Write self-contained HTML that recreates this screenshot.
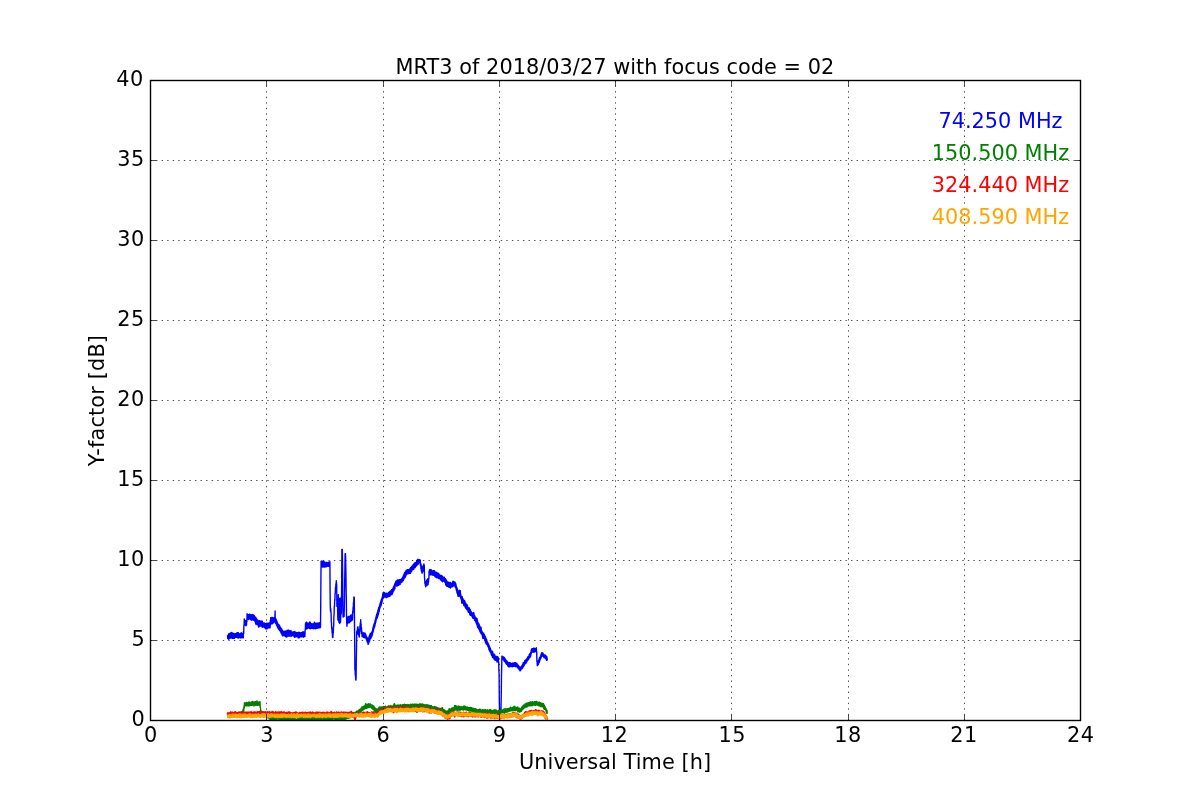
<!DOCTYPE html>
<html lang="en">
<head>
<meta charset="utf-8">
<title>MRT3 of 2018/03/27 with focus code = 02</title>
<style>
html,body{margin:0;padding:0;background:#fff;}
body{width:1200px;height:800px;overflow:hidden;}
svg{display:block;}
</style>
</head>
<body>
<svg width="1200" height="800" viewBox="0 0 1200 800">
<rect x="0" y="0" width="1200" height="800" fill="#ffffff"/>
<clipPath id="ax"><rect x="150.5" y="80.5" width="930" height="640"/></clipPath>
<g clip-path="url(#ax)" fill="none" stroke-width="1.39" stroke-linejoin="round" stroke-linecap="butt">
<path stroke="#0000ff" d="M227.5,635.1 227.7,638.4 227.9,635.2 228.1,638.4 228.3,635.0 228.5,639.2 228.7,633.9 228.9,638.9 229.1,633.5 229.3,638.7 229.5,634.0 229.7,638.1 229.9,633.7 230.1,638.2 230.3,633.2
L230.5,637.4 230.7,633.0 230.9,637.2 231.1,632.9 231.3,637.9 231.5,632.4 231.7,637.8 231.9,632.7 232.1,638.3 232.3,633.2 232.5,638.3 232.7,633.1 232.9,638.2 233.1,633.2 233.3,638.2
L233.5,633.4 233.7,638.2 233.9,634.0 234.1,638.2 234.3,633.9 234.5,638.3 234.7,634.0 234.9,637.4 235.1,633.8 235.3,637.4 235.5,633.7 235.7,637.4 235.9,633.5 236.1,637.4 236.3,633.2
L236.5,637.2 236.7,632.9 236.9,637.3 237.1,633.2 237.3,637.3 237.5,632.7 237.7,637.7 237.9,632.8 238.1,638.1 238.3,632.8 238.5,637.5 238.7,633.7 238.9,637.7 239.1,633.7 239.3,637.6
L239.5,634.3 239.7,637.5 239.9,634.2 240.1,637.6 240.3,633.8 240.5,638.0 240.7,634.0 240.9,637.8 241.1,632.7 241.3,637.7 241.5,633.1 241.7,637.6 241.9,633.1 242.1,637.3 242.3,634.1
L242.5,637.2 242.7,634.1 242.9,637.9 243.1,633.8 243.3,637.9 243.5,631.4 243.7,633.4 243.9,625.1 244.1,625.6 244.3,618.9 244.5,623.8 244.7,620.5 244.9,624.3 245.1,620.8 245.3,624.6
L245.5,621.1 245.7,625.5 245.9,620.5 246.1,625.8 246.3,620.8 246.5,624.9 246.7,620.2 246.9,621.8 247.1,613.6 247.3,618.3 247.5,615.1 247.7,619.1 247.9,615.0 248.1,619.1 248.3,614.7
L248.5,619.5 248.7,614.7 248.9,619.2 249.1,614.6 249.3,618.8 249.5,614.1 249.7,618.7 249.9,614.1 250.1,619.0 250.3,615.4 250.5,619.4 250.7,615.6 250.9,619.3 251.1,614.8 251.3,620.2
L251.5,615.1 251.7,620.0 251.9,614.7 252.1,619.1 252.3,614.5 252.5,619.3 252.7,614.8 252.9,620.0 253.1,615.0 253.3,619.9 253.5,614.9 253.7,620.0 253.9,615.2 254.1,620.3 254.3,615.6
L254.5,620.6 254.7,616.5 254.9,621.3 255.1,617.0 255.3,621.9 255.5,617.1 255.7,623.8 255.9,617.8 256.1,624.5 256.3,618.3 256.5,623.3 256.7,619.0 256.9,623.7 257.1,619.7 257.3,624.1
L257.5,620.0 257.7,624.7 257.9,620.7 258.1,625.1 258.3,621.3 258.5,627.0 258.7,621.5 258.9,627.1 259.1,620.5 259.3,625.4 259.5,620.7 259.7,625.6 259.9,621.1 260.1,626.1 260.3,621.2
L260.5,626.1 260.7,621.1 260.9,625.7 261.1,622.1 261.3,625.9 261.5,621.9 261.7,625.8 261.9,621.0 262.1,627.1 262.3,621.1 262.5,627.3 262.7,622.6 262.9,626.6 263.1,622.9 263.3,626.8
L263.5,623.1 263.7,626.8 263.9,622.9 264.1,627.0 264.3,623.0 264.5,627.6 264.7,623.5 264.9,627.7 265.1,623.9 265.3,628.1 265.5,623.5 265.7,628.9 265.9,623.8 266.1,628.9 266.3,623.6
L266.5,628.8 266.7,623.2 266.9,628.9 267.1,623.3 267.3,628.0 267.5,623.9 267.7,628.1 267.9,623.5 268.1,627.6 268.3,623.1 268.5,627.8 268.7,623.3 268.9,627.7 269.1,623.5 269.3,627.7
L269.5,623.4 269.7,627.5 269.9,622.4 270.1,627.8 270.3,620.6 270.5,624.9 270.7,617.6 270.9,621.5 271.1,618.4 271.3,621.5 271.5,618.4 271.7,623.9 271.9,617.5 272.1,623.8 272.3,617.4
L272.5,623.7 272.7,617.8 272.9,622.8 273.1,618.0 273.3,622.9 273.5,617.9 273.7,621.7 273.9,618.0 274.1,621.9 274.3,618.0 274.5,621.9 274.7,617.6 274.9,616.9 275.1,611.0 275.3,623.0
L275.5,618.5 275.7,623.3 275.9,618.8 276.1,623.9 276.3,619.8 276.5,625.1 276.7,620.7 276.9,625.8 277.1,621.9 277.3,626.6 277.5,622.7 277.7,627.6 277.9,623.7 278.1,628.2 278.3,624.2
L278.5,629.1 278.7,625.0 278.9,629.2 279.1,624.9 279.3,629.9 279.5,625.3 279.7,630.6 279.9,626.5 280.1,630.7 280.3,627.2 280.5,631.4 280.7,627.6 280.9,632.7 281.1,628.3 281.3,633.3
L281.5,628.8 281.7,634.0 281.9,629.2 282.1,634.9 282.3,630.1 282.5,635.8 282.7,630.7 282.9,635.7 283.1,630.9 283.3,635.6 283.5,631.7 283.7,635.0 283.9,631.9 284.1,634.8 284.3,631.4
L284.5,635.8 284.7,631.3 284.9,635.8 285.1,631.4 285.3,636.2 285.5,631.1 285.7,636.2 285.9,630.9 286.1,637.0 286.3,631.6 286.5,637.1 286.7,631.5 286.9,636.9 287.1,630.2 287.3,636.3
L287.5,630.5 287.7,636.1 287.9,630.5 288.1,636.1 288.3,630.2 288.5,636.1 288.7,630.2 288.9,636.1 289.1,630.7 289.3,636.2 289.5,630.7 289.7,634.7 289.9,631.1 290.1,634.7 290.3,631.1
L290.5,634.8 290.7,630.8 290.9,636.5 291.1,630.7 291.3,636.2 291.5,632.0 291.7,635.3 291.9,632.2 292.1,635.5 292.3,632.2 292.5,635.6 292.7,632.0 292.9,635.6 293.1,632.0 293.3,635.9
L293.5,631.9 293.7,636.1 293.9,632.0 294.1,636.1 294.3,631.7 294.5,637.3 294.7,631.6 294.9,637.1 295.1,632.0 295.3,636.8 295.5,632.1 295.7,636.9 295.9,632.2 296.1,636.3 296.3,632.8
L296.5,636.4 296.7,632.8 296.9,636.5 297.1,632.6 297.3,636.5 297.5,632.8 297.7,636.7 297.9,633.0 298.1,637.8 298.3,632.8 298.5,637.6 298.7,632.3 298.9,637.8 299.1,632.4 299.3,637.7
L299.5,632.4 299.7,636.5 299.9,633.3 300.1,636.6 300.3,633.3 300.5,636.7 300.7,632.8 300.9,636.7 301.1,632.9 301.3,636.7 301.5,632.8 301.7,636.8 301.9,632.7 302.1,636.6 302.3,632.0
L302.5,636.5 302.7,632.3 302.9,636.6 303.1,632.0 303.3,637.2 303.5,631.9 303.7,637.0 303.9,631.9 304.1,636.4 304.3,632.4 304.5,636.3 304.7,632.5 304.9,636.5 305.1,630.3 305.3,630.3
L305.5,623.7 305.7,628.1 305.9,622.4 306.1,629.0 306.3,622.2 306.5,628.8 306.7,622.3 306.9,628.8 307.1,623.2 307.3,628.6 307.5,623.1 307.7,627.5 307.9,623.4 308.1,627.6 308.3,623.4
L308.5,627.6 308.7,623.3 308.9,628.3 309.1,623.2 309.3,628.5 309.5,622.2 309.7,628.2 309.9,621.9 310.1,628.1 310.3,622.2 310.5,628.8 310.7,624.8 310.9,628.5 311.1,624.6 311.3,628.4
L311.5,623.6 311.7,628.3 311.9,623.4 312.1,628.3 312.3,624.3 312.5,628.0 312.7,624.3 312.9,628.0 313.1,624.1 313.3,628.6 313.5,624.0 313.7,628.8 313.9,623.9 314.1,627.7 314.3,622.1
L314.5,627.6 314.7,622.5 314.9,628.6 315.1,623.2 315.3,628.7 315.5,623.4 315.7,628.4 315.9,624.3 316.1,628.5 316.3,624.2 316.5,628.4 316.7,623.1 316.9,627.9 317.1,623.2 317.3,627.6
L317.5,623.2 317.7,628.3 317.9,624.0 318.1,628.0 318.3,624.0 318.5,627.9 318.7,622.9 318.9,627.6 319.1,622.9 319.3,627.7 319.5,622.8 319.7,627.7 319.9,622.6 320.1,627.7 320.3,623.2
L320.5,627.3 320.7,607.9 320.9,580.8 321.1,561.2 321.3,565.7 321.5,561.3 321.7,565.8 321.9,561.2 322.1,566.9 322.3,561.1 322.5,567.0 322.7,561.4 322.9,567.0 323.1,561.5 323.3,566.8
L323.5,561.4 323.7,566.7 323.9,561.8 324.1,567.1 324.3,561.9 324.5,567.1 324.7,561.9 324.9,566.2 325.1,563.3 325.3,566.1 325.5,563.2 325.7,566.8 325.9,562.6 326.1,566.7 326.3,562.4
L326.5,566.6 326.7,562.4 326.9,566.4 327.1,562.4 327.3,566.3 327.5,562.9 327.7,565.8 327.9,562.9 328.1,565.8 328.3,563.0 328.5,566.2 328.7,562.1 328.9,566.4 329.1,561.9 329.3,565.8
L329.5,562.0 329.7,565.8 329.9,561.7 330.1,591.4 330.3,606.6 330.5,611.1 330.7,608.2 330.9,612.2 331.1,613.5 331.3,622.2 331.5,622.9 331.7,628.9 331.9,627.2 332.1,632.9 332.3,632.2
L332.5,637.1 332.7,636.4 332.9,637.5 333.1,631.6 333.3,632.7 333.5,626.8 333.7,625.8 333.9,616.0 334.1,614.8 334.3,605.9 334.5,606.2 334.7,599.8 334.9,600.3 335.1,593.1 335.3,593.5
L335.5,587.2 335.7,589.3 335.9,583.7 336.1,585.9 336.3,580.7 336.5,583.3 336.7,585.4 336.9,606.4 337.1,605.2 337.3,602.3 337.5,599.2 337.7,613.5 337.9,620.1 338.1,611.9 338.3,594.6
L338.5,613.1 338.7,618.0 338.9,622.2 339.1,598.8 339.3,603.9 339.5,605.4 339.7,623.5 339.9,604.3 340.1,597.9 340.3,606.4 340.5,622.2 340.7,617.7 340.9,608.5 341.1,601.7 341.3,613.7
L341.5,601.2 341.7,577.3 341.9,549.4 342.1,551.6 342.3,549.4 342.5,563.6 342.7,583.4 342.9,610.7 343.1,617.0 343.3,617.0 343.5,609.8 343.7,612.5 343.9,611.2 344.1,616.4 344.3,607.5
L344.5,596.7 344.7,580.1 344.9,569.0 345.1,553.8 345.3,555.2 345.5,553.8 345.7,561.7 345.9,571.5 346.1,587.8 346.3,596.7 346.5,614.4 346.7,622.0 346.9,626.2 347.1,619.4 347.3,624.0
L347.5,617.3 347.7,623.0 347.9,617.1 348.1,623.0 348.3,616.7 348.5,622.1 348.7,616.4 348.9,622.2 349.1,616.5 349.3,622.7 349.5,616.6 349.7,622.6 349.9,616.5 350.1,621.0 350.3,615.9
L350.5,620.7 350.7,615.2 350.9,621.3 351.1,616.2 351.3,620.8 351.5,615.8 351.7,620.5 351.9,614.6 352.1,620.4 352.3,614.3 352.5,619.4 352.7,611.1 352.9,613.1 353.1,607.2 353.3,607.5
L353.5,602.1 353.7,602.8 353.9,596.9 354.1,600.3 354.3,597.5 354.5,624.0 354.7,643.6 354.9,669.9 355.1,669.1 355.3,675.2 355.5,674.6 355.7,679.7 355.9,680.1 356.1,676.8 356.3,660.0
L356.5,649.1 356.7,631.7 356.9,634.5 357.1,630.6 357.3,633.9 357.5,627.8 357.7,633.7 357.9,626.6 358.1,633.3 358.3,629.0 358.5,634.4 358.7,630.5 358.9,636.0 359.1,631.8 359.3,637.0
L359.5,629.7 359.7,633.7 359.9,625.9 360.1,628.7 360.3,622.9 360.5,625.5 360.7,619.7 360.9,627.6 361.1,624.0 361.3,631.5 361.5,627.7 361.7,633.7 361.9,631.5 362.1,636.6 362.3,632.7
L362.5,636.6 362.7,633.3 362.9,636.9 363.1,633.5 363.3,637.0 363.5,632.8 363.7,637.4 363.9,633.2 364.1,637.6 364.3,633.2 364.5,637.6 364.7,633.2 364.9,637.9 365.1,633.2 365.3,637.3
L365.5,633.9 365.7,638.0 365.9,634.9 366.1,638.8 366.3,636.1 366.5,640.0 366.7,637.0 366.9,640.9 367.1,637.5 367.3,641.9 367.5,638.2 367.7,642.8 367.9,639.0 368.1,644.4 368.3,638.6
L368.5,643.8 368.7,638.0 368.9,642.7 369.1,636.4 369.3,641.6 369.5,635.5 369.7,641.0 369.9,634.5 370.1,639.3 370.3,633.5 370.5,638.6 370.7,634.0 370.9,638.2 371.1,633.2 371.3,637.3
L371.5,632.4 371.7,636.6 371.9,631.9 372.1,635.7 372.3,631.0 372.5,633.9 372.7,628.8 372.9,632.4 373.1,627.2 373.3,631.3 373.5,625.7 373.7,629.4 373.9,624.1 374.1,628.0 374.3,623.5
L374.5,627.2 374.7,622.0 374.9,625.9 375.1,620.5 375.3,623.9 375.5,618.9 375.7,622.5 375.9,617.3 376.1,620.6 376.3,615.8 376.5,619.3 376.7,614.4 376.9,617.8 377.1,613.2 377.3,618.0
L377.5,612.1 377.7,616.6 377.9,610.3 378.1,615.3 378.3,608.9 378.5,613.9 378.7,607.5 378.9,612.3 379.1,607.3 379.3,611.1 379.5,605.9 379.7,608.9 379.9,604.0 380.1,607.6 380.3,602.8
L380.5,606.3 380.7,601.6 380.9,605.9 381.1,600.2 381.3,605.1 381.5,599.2 381.7,603.4 381.9,598.1 382.1,602.0 382.3,596.9 382.5,600.0 382.7,594.1 382.9,598.7 383.1,592.8 383.3,597.6
L383.5,593.6 383.7,597.3 383.9,593.5 384.1,597.4 384.3,592.6 384.5,596.8 384.7,592.5 384.9,596.8 385.1,593.6 385.3,596.8 385.5,593.8 385.7,596.9 385.9,593.7 386.1,597.7 386.3,593.4
L386.5,597.4 386.7,593.3 386.9,597.0 387.1,593.3 387.3,597.1 387.5,593.5 387.7,597.1 387.9,593.4 388.1,596.4 388.3,593.2 388.5,596.2 388.7,592.4 388.9,596.3 389.1,592.1 389.3,595.9
L389.5,591.8 389.7,596.3 389.9,591.5 390.1,596.0 390.3,591.0 390.5,594.9 390.7,591.0 390.9,594.5 391.1,590.8 391.3,594.5 391.5,589.7 391.7,594.8 391.9,589.7 392.1,594.4 392.3,589.8
L392.5,593.4 392.7,588.7 392.9,592.5 393.1,587.9 393.3,591.5 393.5,586.9 393.7,590.7 393.9,586.2 394.1,590.1 394.3,585.1 394.5,589.1 394.7,584.0 394.9,588.6 395.1,583.3 395.3,586.3
L395.5,582.3 395.7,585.3 395.9,581.2 396.1,585.2 396.3,581.1 396.5,585.0 396.7,581.0 396.9,586.3 397.1,580.1 397.3,585.7 397.5,579.9 397.7,585.6 397.9,580.1 398.1,585.5 398.3,579.9
L398.5,585.4 398.7,580.8 398.9,584.1 399.1,580.4 399.3,583.9 399.5,579.8 399.7,584.6 399.9,579.6 400.1,584.4 400.3,579.6 400.5,582.8 400.7,579.5 400.9,582.5 401.1,579.2 401.3,582.6
L401.5,578.7 401.7,582.4 401.9,578.4 402.1,581.6 402.3,578.0 402.5,580.9 402.7,577.3 402.9,580.2 403.1,576.2 403.3,580.6 403.5,575.5 403.7,579.6 403.9,574.5 404.1,578.5 404.3,573.2
L404.5,577.8 404.7,572.5 404.9,577.7 405.1,572.4 405.3,577.3 405.5,571.8 405.7,576.3 405.9,570.7 406.1,574.7 406.3,570.2 406.5,574.7 406.7,570.1 406.9,573.9 407.1,569.9 407.3,573.9
L407.5,569.8 407.7,573.9 407.9,569.6 408.1,573.9 408.3,569.6 408.5,573.4 408.7,570.4 408.9,573.4 409.1,570.4 409.3,573.2 409.5,569.2 409.7,573.2 409.9,569.4 410.1,573.0 410.3,568.3
L410.5,573.2 410.7,567.5 410.9,572.2 411.1,567.1 411.3,571.6 411.5,567.1 411.7,571.1 411.9,566.3 412.1,569.9 412.3,566.1 412.5,569.7 412.7,565.6 412.9,569.0 413.1,564.8 413.3,569.5
L413.5,564.3 413.7,569.4 413.9,563.9 414.1,567.8 414.3,563.4 414.5,567.3 414.7,562.9 414.9,567.7 415.1,562.8 415.3,567.5 415.5,562.4 415.7,566.4 415.9,562.7 416.1,566.1 416.3,562.4
L416.5,565.7 416.7,560.4 416.9,565.0 417.1,560.3 417.3,564.7 417.5,559.7 417.7,564.8 417.9,559.2 418.1,564.2 418.3,559.6 418.5,563.6 418.7,559.6 418.9,563.0 419.1,559.6 419.3,562.8
L419.5,559.6 419.7,562.5 419.9,559.6 420.1,561.9 420.3,560.4 420.5,565.7 420.7,563.5 420.9,568.7 421.1,564.4 421.3,570.8 421.5,566.1 421.7,572.3 421.9,567.7 422.1,573.3 422.3,567.5
L422.5,572.2 422.7,566.6 422.9,571.7 423.1,565.7 423.3,570.9 423.5,564.7 423.7,569.7 423.9,563.9 424.1,568.4 424.3,565.5 424.5,578.0 424.7,578.8 424.9,583.4 425.1,581.1 425.3,585.5
L425.5,582.8 425.7,586.7 425.9,581.9 426.1,586.0 426.3,581.6 426.5,585.5 426.7,580.3 426.9,585.0 427.1,579.7 427.3,584.4 427.5,579.3 427.7,585.0 427.9,578.6 428.1,584.5 428.3,579.2
L428.5,582.0 428.7,578.6 428.9,578.4 429.1,571.1 429.3,575.0 429.5,569.6 429.7,574.9 429.9,569.4 430.1,574.9 430.3,570.1 430.5,574.7 430.7,569.9 430.9,574.9 431.1,569.8 431.3,574.1
L431.5,570.3 431.7,574.2 431.9,570.8 432.1,574.7 432.3,571.2 432.5,574.7 432.7,571.3 432.9,575.3 433.1,570.7 433.3,575.4 433.5,570.8 433.7,575.2 433.9,570.8 434.1,575.4 434.3,570.8
L434.5,575.5 434.7,571.3 434.9,576.6 435.1,571.7 435.3,576.8 435.5,572.5 435.7,576.8 435.9,572.6 436.1,577.3 436.3,573.0 436.5,577.6 436.7,572.2 436.9,577.8 437.1,572.6 437.3,577.5
L437.5,573.9 437.7,577.6 437.9,574.2 438.1,577.9 438.3,573.2 438.5,578.5 438.7,573.4 438.9,578.6 439.1,574.4 439.3,578.5 439.5,574.6 439.7,578.5 439.9,574.9 440.1,579.0 440.3,575.4
L440.5,579.5 440.7,575.7 440.9,580.1 441.1,575.5 441.3,580.4 441.5,576.0 441.7,580.7 441.9,575.8 442.1,581.4 442.3,576.1 442.5,581.7 442.7,577.1 442.9,580.7 443.1,577.4 443.3,580.9
L443.5,577.5 443.7,581.1 443.9,577.0 444.1,581.3 444.3,577.1 444.5,581.6 444.7,578.3 444.9,582.2 445.1,579.0 445.3,582.8 445.5,578.6 445.7,584.9 445.9,579.5 446.1,585.2 446.3,580.1
L446.5,585.6 446.7,580.7 446.9,586.2 447.1,581.2 447.3,585.9 447.5,582.9 447.7,586.2 447.9,582.9 448.1,586.7 448.3,582.1 448.5,587.0 448.7,582.2 448.9,587.0 449.1,583.1 449.3,587.2
L449.5,583.2 449.7,587.2 449.9,582.5 450.1,587.7 450.3,582.4 450.5,588.0 450.7,582.7 450.9,587.0 451.1,583.0 451.3,587.0 451.5,583.3 451.7,586.9 451.9,583.3 452.1,586.9 452.3,583.0
L452.5,586.3 452.7,581.7 452.9,586.5 453.1,581.3 453.3,586.0 453.5,582.1 453.7,585.4 453.9,581.7 454.1,585.4 454.3,582.2 454.5,585.7 454.7,582.0 454.9,586.3 455.1,582.3 455.3,587.3
L455.5,583.1 455.7,587.8 455.9,584.0 456.1,589.2 456.3,586.0 456.5,590.8 456.7,587.5 456.9,592.4 457.1,587.9 457.3,593.4 457.5,589.6 457.7,595.0 457.9,591.4 458.1,596.4 458.3,591.7
L458.5,596.2 458.7,591.5 458.9,596.3 459.1,590.5 459.3,596.0 459.5,590.2 459.7,596.0 459.9,590.6 460.1,595.9 460.3,590.6 460.5,597.5 460.7,593.9 460.9,598.6 461.1,596.3 461.3,599.7
L461.5,596.9 461.7,602.7 461.9,596.4 462.1,603.4 462.3,597.0 462.5,601.7 462.7,598.4 462.9,602.2 463.1,598.9 463.3,602.8 463.5,599.7 463.7,605.2 463.9,600.2 464.1,605.7 464.3,600.4
L464.5,605.5 464.7,600.9 464.9,606.2 465.1,601.7 465.3,607.5 465.5,603.0 465.7,608.3 465.9,603.4 466.1,608.4 466.3,604.3 466.5,609.0 466.7,604.8 466.9,609.7 467.1,604.7 467.3,609.3
L467.5,605.7 467.7,610.1 467.9,607.1 468.1,611.8 468.3,607.8 468.5,612.4 468.7,608.2 468.9,612.3 469.1,607.7 469.3,612.7 469.5,608.4 469.7,614.3 469.9,609.3 470.1,614.9 470.3,609.8
L470.5,615.4 470.7,611.0 470.9,614.4 471.1,611.5 471.3,614.9 471.5,612.3 471.7,616.0 471.9,612.8 472.1,616.5 472.3,613.3 472.5,617.4 472.7,613.5 472.9,618.2 473.1,614.0 473.3,617.9
L473.5,612.4 473.7,618.2 473.9,612.9 474.1,618.7 474.3,615.3 474.5,620.1 474.7,615.8 474.9,620.5 475.1,616.7 475.3,621.0 475.5,617.3 475.7,621.6 475.9,617.7 476.1,623.0 476.3,618.0
L476.5,623.7 476.7,618.5 476.9,624.7 477.1,618.6 477.3,626.2 477.5,620.3 477.7,627.6 477.9,622.7 478.1,627.2 478.3,624.0 478.5,628.5 478.7,623.2 478.9,629.3 479.1,624.4 479.3,630.0
L479.5,625.1 479.7,631.1 479.9,627.9 480.1,631.8 480.3,628.6 480.5,632.7 480.7,626.9 480.9,633.3 481.1,627.4 481.3,634.0 481.5,630.3 481.7,634.1 481.9,630.9 482.1,634.9 482.3,632.3
L482.5,637.3 482.7,633.0 482.9,638.5 483.1,633.7 483.3,637.1 483.5,633.0 483.7,637.8 483.9,633.9 484.1,638.5 484.3,634.5 484.5,639.1 484.7,635.3 484.9,639.7 485.1,636.3 485.3,641.9
L485.5,637.0 485.7,642.8 485.9,638.1 486.1,643.6 486.3,639.0 486.5,644.3 486.7,639.6 486.9,644.0 487.1,641.1 487.3,644.9 487.5,642.1 487.7,646.0 487.9,642.8 488.1,646.7 488.3,643.6
L488.5,647.7 488.7,644.5 488.9,649.5 489.1,645.4 489.3,650.2 489.5,646.4 489.7,651.0 489.9,647.5 490.1,651.9 490.3,648.3 490.5,652.3 490.7,649.5 490.9,653.3 491.1,650.5 491.3,654.6
L491.5,651.4 491.7,655.4 491.9,652.3 492.1,656.0 492.3,651.1 492.5,657.4 492.7,651.8 492.9,657.8 493.1,653.6 493.3,656.9 493.5,654.0 493.7,657.3 493.9,654.5 494.1,659.2 494.3,654.2
L494.5,659.7 494.7,654.7 494.9,659.6 495.1,656.0 495.3,660.1 495.5,656.3 495.7,660.4 495.9,656.7 496.1,660.3 496.3,657.0 496.5,660.4 496.7,656.4 496.9,661.9 497.1,656.5 497.3,662.0
L497.5,657.1 497.7,661.4 497.9,657.0 498.1,661.6 498.3,657.8 498.5,661.9 498.7,661.9 498.9,670.3 499.1,674.0 499.3,700.3 499.5,710.8 499.7,711.8 499.9,710.8 500.1,711.8 500.3,710.0
L500.5,711.8 500.7,710.0 500.9,711.8 501.1,702.8 501.3,691.5 501.5,675.3 501.7,666.4 501.9,656.2 502.1,658.5 502.3,656.2 502.5,658.9 502.7,656.4 502.9,659.5 503.1,656.6 503.3,659.6
L503.5,657.0 503.7,660.0 503.9,657.1 504.1,661.0 504.3,657.5 504.5,661.6 504.7,658.0 504.9,661.5 505.1,658.6 505.3,662.1 505.5,659.4 505.7,663.0 505.9,660.0 506.1,663.7 506.3,660.5
L506.5,664.2 506.7,660.8 506.9,664.3 507.1,661.2 507.3,664.7 507.5,661.8 507.7,665.6 507.9,662.3 508.1,666.2 508.3,662.9 508.5,666.7 508.7,662.7 508.9,666.8 509.1,662.8 509.3,666.6
L509.5,662.8 509.7,666.8 509.9,662.7 510.1,666.8 510.3,663.0 510.5,665.9 510.7,663.0 510.9,665.9 511.1,663.6 511.3,666.2 511.5,663.6 511.7,666.1 511.9,663.6 512.1,666.7 512.3,663.3
L512.5,666.7 512.7,663.3 512.9,666.2 513.1,663.1 513.3,666.2 513.5,663.1 513.7,666.1 513.9,663.1 514.1,666.3 514.3,663.1 514.5,666.1 514.7,662.8 514.9,666.3 515.1,662.7 515.3,666.3
L515.5,662.6 515.7,666.7 515.9,663.4 516.1,666.6 516.3,663.4 516.5,666.0 516.7,663.2 516.9,666.5 517.1,663.7 517.3,667.2 517.5,664.7 517.7,667.6 517.9,665.2 518.1,668.3 518.3,665.3
L518.5,668.8 518.7,665.8 518.9,669.3 519.1,666.4 519.3,669.6 519.5,667.5 519.7,670.1 519.9,668.0 520.1,670.9 520.3,667.3 520.5,670.3 520.7,666.9 520.9,670.0 521.1,666.8 521.3,669.0
L521.5,666.2 521.7,668.5 521.9,665.6 522.1,668.6 522.3,665.0 522.5,668.1 522.7,664.5 522.9,667.5 523.1,662.9 523.3,666.8 523.5,662.5 523.7,666.1 523.9,662.7 524.1,665.4 524.3,662.2
L524.5,664.9 524.7,660.8 524.9,664.0 525.1,660.5 525.3,663.5 525.5,660.4 525.7,663.5 525.9,659.7 526.1,663.0 526.3,659.2 526.5,662.2 526.7,659.3 526.9,661.6 527.1,658.6 527.3,660.8
L527.5,657.4 527.7,660.2 527.9,656.7 528.1,659.8 528.3,657.0 528.5,659.6 528.7,656.4 528.9,658.8 529.1,654.7 529.3,657.9 529.5,654.2 529.7,657.2 529.9,653.5 530.1,657.2 530.3,653.8
L530.5,656.4 530.7,652.8 530.9,655.1 531.1,650.7 531.3,653.5 531.5,649.1 531.7,652.1 531.9,648.7 532.1,652.1 532.3,648.8 532.5,652.1 532.7,648.6 532.9,651.8 533.1,648.6 533.3,651.9
L533.5,648.7 533.7,652.3 533.9,648.0 534.1,652.2 534.3,648.1 534.5,651.6 534.7,648.6 534.9,651.5 535.1,648.7 535.3,651.6 535.5,648.6 535.7,651.6 535.9,648.4 536.1,651.7 536.3,647.8
L536.5,651.3 536.7,651.4 536.9,661.6 537.1,661.3 537.3,665.6 537.5,661.9 537.7,665.3 537.9,661.6 538.1,664.6 538.3,660.8 538.5,664.2 538.7,660.1 538.9,662.9 539.1,658.7 539.3,662.1
L539.5,657.7 539.7,660.9 539.9,657.8 540.1,660.0 540.3,656.6 540.5,658.8 540.7,655.6 540.9,658.3 541.1,654.2 541.3,657.2 541.5,653.0 541.7,655.7 541.9,652.7 542.1,655.8 542.3,653.0
L542.5,656.0 542.7,652.9 542.9,656.1 543.1,653.3 543.3,656.5 543.5,654.4 543.7,657.1 543.9,654.8 544.1,657.5 544.3,655.2 544.5,657.4 544.7,655.0 544.9,657.8 545.1,655.3 545.3,658.4
L545.5,655.3 545.7,658.8 545.9,655.7 546.1,659.2 546.3,656.2 546.5,660.1 546.7,656.4 546.9,660.4 547.1,657.7 547.3,660.0"/>
<path stroke="#008000" d="M227.5,713.0 227.8,717.4 228.0,713.1 228.2,717.4 228.5,714.4 228.8,717.0 229.0,714.3 229.2,716.9 229.5,713.6 229.8,717.6 230.0,713.5 230.2,716.5 230.5,713.4 230.8,716.5 231.0,713.5
L231.2,717.0 231.5,713.1 231.8,717.2 232.0,713.6 232.2,717.2 232.5,713.6 232.8,717.1 233.0,714.2 233.2,716.2 233.5,714.0 233.8,716.3 234.0,713.8 234.2,717.1 234.5,713.9 234.8,716.9
L235.0,713.0 235.2,716.8 235.5,713.2 235.8,716.6 236.0,713.9 236.2,716.6 236.5,712.8 236.8,716.6 237.0,712.5 237.2,716.5 237.5,713.2 237.8,716.6 238.0,713.1 238.2,716.6 238.5,713.2
L238.8,716.1 239.0,713.0 239.2,715.4 239.5,712.3 239.8,715.3 240.0,712.1 240.2,715.5 240.5,712.7 240.8,715.3 241.0,712.0 241.2,715.4 241.5,711.6 241.8,715.1 242.0,711.7 242.2,714.5
L242.5,711.2 242.8,714.3 243.0,709.8 243.2,713.7 243.5,707.9 243.8,711.0 244.0,706.1 244.2,708.0 244.5,702.8 244.8,705.8 245.0,703.0 245.2,705.7 245.5,702.9 245.8,705.8 246.0,702.9
L246.2,705.9 246.5,702.5 246.8,705.8 247.0,702.5 247.2,705.8 247.5,703.1 247.8,705.2 248.0,702.9 248.2,705.9 248.5,702.1 248.8,705.7 249.0,701.9 249.2,705.7 249.5,702.1 249.8,705.8
L250.0,702.6 250.2,705.2 250.5,702.6 250.8,705.0 251.0,702.2 251.2,705.2 251.5,702.1 251.8,705.1 252.0,701.8 252.2,705.4 252.5,701.5 252.8,704.9 253.0,702.1 253.2,704.9 253.5,702.0
L253.8,705.7 254.0,702.2 254.2,705.7 254.5,701.9 254.8,705.6 255.0,701.8 255.2,705.4 255.5,701.7 255.8,704.7 256.0,701.6 256.2,704.8 256.5,701.1 256.8,705.2 257.0,700.9 257.2,705.1
L257.5,702.3 257.8,705.2 258.0,702.2 258.2,705.0 258.5,702.4 258.8,704.7 259.0,701.9 259.2,705.2 259.5,702.0 259.8,705.0 260.0,701.8 260.2,707.8 260.5,707.7 260.8,713.7 261.0,710.8
L261.2,714.5 261.5,711.2 261.8,714.6 262.0,712.0 262.2,714.7 262.5,712.1 262.8,715.1 263.0,711.6 263.2,715.2 263.5,712.6 263.8,714.6 264.0,712.6 264.2,714.8 264.5,712.5 264.8,715.6
L265.0,712.7 265.2,715.7 265.5,712.7 265.8,715.4 266.0,712.9 266.2,715.8 266.5,712.5 266.8,716.2 267.0,713.2 267.2,717.3 267.5,713.5 267.8,717.9 268.0,715.1 268.2,717.5 268.5,715.4
L268.8,717.9 269.0,715.7 269.2,718.9 269.5,716.2 269.8,719.3 270.0,716.3 270.2,719.1 270.5,716.3 270.8,719.8 271.0,716.1 271.2,719.8 271.5,716.0 271.8,719.8 272.0,715.8 272.2,719.8
L272.5,716.2 272.8,719.3 273.0,716.2 273.2,719.2 273.5,716.5 273.8,719.8 274.0,716.4 274.2,719.8 274.5,716.2 274.8,719.8 275.0,716.2 275.2,719.1 275.5,716.0 275.8,719.1 276.0,716.1
L276.2,719.4 276.5,716.0 276.8,719.2 277.0,714.9 277.2,719.0 277.5,715.3 277.8,719.0 278.0,716.3 278.2,719.1 278.5,716.4 278.8,719.2 279.0,716.2 279.2,719.4 279.5,715.9 279.8,719.4
L280.0,715.8 280.2,719.5 280.5,715.7 280.8,719.4 281.0,716.4 281.2,719.3 281.5,716.1 281.8,719.6 282.0,715.9 282.2,719.6 282.5,716.4 282.8,719.6 283.0,716.5 283.2,719.5 283.5,716.6
L283.8,719.8 284.0,716.5 284.2,719.2 284.5,716.6 284.8,719.3 285.0,716.8 285.2,719.8 285.5,716.8 285.8,719.8 286.0,716.6 286.2,719.2 286.5,716.7 286.8,719.3 287.0,716.6 287.2,719.8
L287.5,716.5 287.8,719.8 288.0,716.2 288.2,719.7 288.5,716.2 288.8,719.8 289.0,716.2 289.2,719.8 289.5,716.1 289.8,719.1 290.0,715.4 290.2,719.1 290.5,716.2 290.8,719.8 291.0,716.2
L291.2,719.7 291.5,716.4 291.8,719.4 292.0,716.3 292.2,719.4 292.5,716.3 292.8,719.4 293.0,716.5 293.2,719.4 293.5,716.3 293.8,719.5 294.0,716.4 294.2,719.8 294.5,716.3 294.8,719.8
L295.0,716.1 295.2,719.3 295.5,716.0 295.8,719.4 296.0,716.8 296.2,719.8 296.5,716.8 296.8,719.7 297.0,716.2 297.2,719.1 297.5,716.0 297.8,719.8 298.0,716.9 298.2,719.8 298.5,716.9
L298.8,719.8 299.0,716.6 299.2,719.8 299.5,716.2 299.8,719.8 300.0,716.2 300.2,719.8 300.5,716.8 300.8,719.6 301.0,716.9 301.2,719.7 301.5,716.0 301.8,719.5 302.0,716.3 302.2,719.7
L302.5,716.6 302.8,719.6 303.0,716.8 303.2,719.8 303.5,716.7 303.8,719.7 304.0,716.1 304.2,719.7 304.5,716.1 304.8,719.6 305.0,716.3 305.2,719.8 305.5,716.3 305.8,719.8 306.0,716.6
L306.2,719.4 306.5,716.7 306.8,719.8 307.0,715.9 307.2,719.8 307.5,716.1 307.8,719.8 308.0,716.9 308.2,719.8 308.5,716.2 308.8,719.3 309.0,716.2 309.2,719.2 309.5,716.1 309.8,719.2
L310.0,716.0 310.2,719.2 310.5,716.1 310.8,719.4 311.0,716.0 311.2,719.8 311.5,716.3 311.8,719.8 312.0,716.5 312.2,719.8 312.5,715.9 312.8,719.8 313.0,716.3 313.2,719.8 313.5,716.2
L313.8,719.8 314.0,716.6 314.2,719.3 314.5,716.7 314.8,719.3 315.0,716.0 315.2,719.2 315.5,716.0 315.8,719.3 316.0,716.4 316.2,719.4 316.5,716.2 316.8,719.7 317.0,716.6 317.2,719.7
L317.5,716.5 317.8,719.1 318.0,716.5 318.2,719.1 318.5,716.7 318.8,719.5 319.0,716.7 319.2,719.5 319.5,715.6 319.8,719.4 320.0,715.6 320.2,719.8 320.5,716.4 320.8,719.8 321.0,716.3
L321.2,719.8 321.5,716.3 321.8,719.6 322.0,716.4 322.2,719.1 322.5,716.6 322.8,719.1 323.0,716.7 323.2,719.3 323.5,716.7 323.8,719.2 324.0,715.8 324.2,719.8 324.5,715.8 324.8,719.8
L325.0,716.8 325.2,719.8 325.5,716.7 325.8,719.6 326.0,716.1 326.2,719.6 326.5,716.2 326.8,719.8 327.0,716.3 327.2,719.8 327.5,716.2 327.8,719.2 328.0,716.3 328.2,719.2 328.5,716.6
L328.8,719.5 329.0,716.4 329.2,719.5 329.5,716.7 329.8,719.7 330.0,716.6 330.2,718.9 330.5,716.8 330.8,719.0 331.0,716.7 331.2,719.8 331.5,716.6 331.8,719.8 332.0,716.0 332.2,719.8
L332.5,715.8 332.8,719.8 333.0,716.6 333.2,719.0 333.5,716.6 333.8,718.8 334.0,716.3 334.2,718.9 334.5,716.1 334.8,719.5 335.0,716.6 335.2,719.6 335.5,716.8 335.8,719.7 336.0,716.8
L336.2,719.7 336.5,716.4 336.8,719.1 337.0,716.5 337.2,719.2 337.5,715.5 337.8,719.3 338.0,715.6 338.2,719.3 338.5,716.3 338.8,719.3 339.0,716.4 339.2,718.9 339.5,716.4 339.8,718.9
L340.0,716.2 340.2,719.6 340.5,716.2 340.8,719.8 341.0,716.4 341.2,719.1 341.5,716.5 341.8,719.0 342.0,716.2 342.2,719.8 342.5,716.2 342.8,719.5 343.0,716.3 343.2,719.6 343.5,716.4
L343.8,718.9 344.0,715.8 344.2,718.9 344.5,716.2 344.8,719.8 345.0,716.3 345.2,719.5 345.5,716.4 345.8,718.8 346.0,716.2 346.2,718.5 346.5,715.3 346.8,718.8 347.0,715.3 347.2,718.1
L347.5,715.6 347.8,717.9 348.0,715.5 348.2,718.3 348.5,715.3 348.8,718.1 349.0,715.0 349.2,717.9 349.5,714.9 349.8,717.5 350.0,713.9 350.2,717.7 350.5,713.9 350.8,717.5 351.0,713.7
L351.2,717.5 351.5,713.2 351.8,717.4 352.0,713.4 352.2,717.2 352.5,712.9 352.8,716.1 353.0,713.5 353.2,715.8 353.5,712.6 353.8,715.8 354.0,712.5 354.2,715.6 354.5,713.1 354.8,716.4
L355.0,713.0 355.2,716.2 355.5,712.2 355.8,715.3 356.0,712.2 356.2,716.1 356.5,711.3 356.8,715.9 357.0,711.1 357.2,714.7 357.5,711.4 357.8,714.5 358.0,710.7 358.2,714.4 358.5,710.3
L358.8,714.1 359.0,710.0 359.2,712.8 359.5,709.5 359.8,712.4 360.0,709.5 360.2,712.4 360.5,709.0 360.8,712.1 361.0,708.3 361.2,711.8 361.5,707.9 361.8,710.9 362.0,706.7 362.2,710.5
L362.5,707.6 362.8,710.1 363.0,707.0 363.2,709.7 363.5,706.4 363.8,709.4 364.0,706.0 364.2,709.2 364.5,705.9 364.8,708.8 365.0,705.6 365.2,708.1 365.5,703.8 365.8,708.0 366.0,704.0
L366.2,708.6 366.5,704.5 366.8,708.3 367.0,704.4 367.2,707.9 367.5,704.4 367.8,707.7 368.0,703.9 368.2,707.6 368.5,703.7 368.8,707.5 369.0,704.5 369.2,707.6 369.5,704.3 369.8,706.6
L370.0,703.8 370.2,706.8 370.5,704.3 370.8,707.3 371.0,704.8 371.2,707.7 371.5,704.9 371.8,708.1 372.0,705.1 372.2,708.4 372.5,705.2 372.8,709.1 373.0,705.6 373.2,709.4 373.5,706.0
L373.8,709.3 374.0,706.2 374.2,710.7 374.5,707.5 374.8,711.2 375.0,707.9 375.2,711.6 375.5,708.1 375.8,712.0 376.0,708.6 376.2,712.1 376.5,709.0 376.8,712.6 377.0,709.7 377.2,713.9
L377.5,709.4 377.8,713.7 378.0,708.5 378.2,711.3 378.5,708.3 378.8,711.0 379.0,707.3 379.2,710.7 379.5,707.0 379.8,711.1 380.0,707.3 380.2,710.8 380.5,707.0 380.8,710.3 381.0,707.2
L381.2,710.1 381.5,707.2 381.8,710.0 382.0,707.0 382.2,709.9 382.5,706.9 382.8,709.6 383.0,707.1 383.2,710.0 383.5,706.5 383.8,709.9 384.0,706.6 384.2,709.5 384.5,706.8 384.8,709.4
L385.0,706.5 385.2,709.9 385.5,706.3 385.8,710.0 386.0,707.2 386.2,709.2 386.5,707.1 386.8,709.1 387.0,706.7 387.2,709.5 387.5,706.7 387.8,710.1 388.0,706.2 388.2,709.9 388.5,706.0
L388.8,709.3 389.0,705.7 389.2,709.4 389.5,706.2 389.8,709.0 390.0,706.2 390.2,709.0 390.5,705.6 390.8,708.5 391.0,705.6 391.2,708.5 391.5,706.4 391.8,709.4 392.0,706.3 392.2,708.3
L392.5,706.1 392.8,708.1 393.0,706.0 393.2,708.6 393.5,705.3 393.8,708.5 394.0,704.0 394.2,708.3 394.5,703.8 394.8,708.2 395.0,705.4 395.2,708.7 395.5,705.3 395.8,708.8 396.0,705.4
L396.2,708.4 396.5,705.4 396.8,709.0 397.0,705.4 397.2,709.0 397.5,705.3 397.8,709.4 398.0,705.0 398.2,709.7 398.5,705.1 398.8,708.4 399.0,705.3 399.2,708.5 399.5,705.3 399.8,708.2
L400.0,705.2 400.2,708.1 400.5,704.7 400.8,708.3 401.0,704.9 401.2,708.6 401.5,705.6 401.8,708.6 402.0,705.7 402.2,708.6 402.5,704.6 402.8,708.4 403.0,704.6 403.2,709.1 403.5,704.8
L403.8,709.1 404.0,704.5 404.2,708.8 404.5,704.3 404.8,708.5 405.0,704.6 405.2,708.1 405.5,704.6 405.8,708.4 406.0,704.6 406.2,708.6 406.5,704.6 406.8,708.4 407.0,705.2 407.2,708.2
L407.5,704.6 407.8,707.9 408.0,704.5 408.2,707.9 408.5,704.7 408.8,708.4 409.0,704.8 409.2,708.4 409.5,705.1 409.8,707.5 410.0,705.1 410.2,707.4 410.5,704.3 410.8,707.4 411.0,704.4
L411.2,709.2 411.5,704.8 411.8,709.0 412.0,704.3 412.2,708.6 412.5,704.3 412.8,708.5 413.0,704.5 413.2,707.9 413.5,704.5 413.8,707.9 414.0,704.1 414.2,707.8 414.5,704.3 414.8,707.5
L415.0,704.2 415.2,707.6 415.5,704.2 415.8,708.3 416.0,704.6 416.2,708.2 416.5,704.1 416.8,707.6 417.0,704.2 417.2,707.6 417.5,704.5 417.8,707.9 418.0,704.6 418.2,707.9 418.5,704.5
L418.8,708.2 419.0,704.5 419.2,707.6 419.5,703.9 419.8,707.7 420.0,703.8 420.2,708.3 420.5,704.3 420.8,708.3 421.0,704.2 421.2,707.4 421.5,704.4 421.8,707.5 422.0,704.0 422.2,708.0
L422.5,703.9 422.8,708.0 423.0,704.5 423.2,707.4 423.5,704.4 423.8,707.6 424.0,704.7 424.2,707.7 424.5,705.0 424.8,708.1 425.0,704.7 425.2,708.3 425.5,704.9 425.8,707.9 426.0,704.9
L426.2,708.0 426.5,704.8 426.8,708.9 427.0,705.0 427.2,708.9 427.5,704.9 427.8,709.1 428.0,704.9 428.2,708.4 428.5,705.3 428.8,708.6 429.0,705.4 429.2,708.9 429.5,705.4 429.8,709.1
L430.0,705.7 430.2,708.5 430.5,705.8 430.8,708.7 431.0,705.8 431.2,709.3 431.5,705.8 431.8,709.3 432.0,706.4 432.2,709.8 432.5,706.7 432.8,709.4 433.0,707.0 433.2,709.5 433.5,707.1
L433.8,710.5 434.0,706.8 434.2,710.6 434.5,706.4 434.8,709.9 435.0,706.7 435.2,709.8 435.5,706.9 435.8,710.4 436.0,707.1 436.2,710.5 436.5,707.2 436.8,710.0 437.0,707.4 437.2,711.0
L437.5,707.8 437.8,711.1 438.0,708.0 438.2,711.4 438.5,708.1 438.8,711.6 439.0,708.5 439.2,711.2 439.5,708.7 439.8,711.3 440.0,708.3 440.2,711.9 440.5,708.6 440.8,712.0 441.0,708.7
L441.2,712.2 441.5,708.7 441.8,712.5 442.0,707.7 442.2,712.8 442.5,707.8 442.8,712.1 443.0,709.3 443.2,712.3 443.5,709.6 443.8,713.2 444.0,709.8 444.2,713.3 444.5,710.1 444.8,713.8
L445.0,710.2 445.2,714.0 445.5,710.9 445.8,713.3 446.0,711.2 446.2,713.4 446.5,711.1 446.8,713.6 447.0,711.2 447.2,714.6 447.5,711.0 447.8,714.6 448.0,710.5 448.2,713.9 448.5,710.3
L448.8,713.9 449.0,708.9 449.2,713.0 449.5,708.8 449.8,712.7 450.0,709.8 450.2,712.3 450.5,709.6 450.8,712.5 451.0,708.8 451.2,712.1 451.5,708.7 451.8,712.2 452.0,708.0 452.2,712.2
L452.5,708.0 452.8,710.9 453.0,707.6 453.2,710.5 453.5,708.0 453.8,710.8 454.0,707.8 454.2,710.6 454.5,705.7 454.8,709.7 455.0,705.7 455.2,710.1 455.5,705.8 455.8,709.9 456.0,705.6
L456.2,709.8 456.5,706.4 456.8,709.9 457.0,707.1 457.2,710.6 457.5,707.1 457.8,710.4 458.0,706.2 458.2,709.4 458.5,706.0 458.8,709.3 459.0,706.4 459.2,710.1 459.5,706.5 459.8,710.2
L460.0,706.9 460.2,710.2 460.5,706.9 460.8,709.6 461.0,706.5 461.2,709.6 461.5,706.9 461.8,709.5 462.0,706.9 462.2,709.5 462.5,707.0 462.8,709.9 463.0,707.1 463.2,710.1 463.5,706.2
L463.8,709.2 464.0,706.2 464.2,709.5 464.5,706.2 464.8,709.4 465.0,706.2 465.2,709.9 465.5,706.5 465.8,709.8 466.0,706.9 466.2,709.9 466.5,707.2 466.8,709.9 467.0,707.0 467.2,710.2
L467.5,707.1 467.8,710.4 468.0,707.6 468.2,709.7 468.5,707.7 468.8,710.8 469.0,707.6 469.2,711.1 469.5,707.8 469.8,711.1 470.0,708.2 470.2,711.0 470.5,707.5 470.8,710.6 471.0,707.8
L471.2,710.7 471.5,707.6 471.8,711.4 472.0,708.0 472.2,711.6 472.5,708.3 472.8,712.2 473.0,708.5 473.2,711.4 473.5,708.4 473.8,711.6 474.0,708.7 474.2,712.4 474.5,709.2 474.8,712.6
L475.0,708.7 475.2,712.9 475.5,708.7 475.8,713.0 476.0,709.1 476.2,712.8 476.5,709.3 476.8,713.0 477.0,710.0 477.2,713.2 477.5,710.1 477.8,712.9 478.0,709.7 478.2,712.9 478.5,709.6
L478.8,712.8 479.0,709.8 479.2,712.7 479.5,709.3 479.8,713.4 480.0,709.3 480.2,713.5 480.5,709.5 480.8,712.7 481.0,709.6 481.2,712.7 481.5,710.4 481.8,713.2 482.0,710.4 482.2,713.0
L482.5,709.7 482.8,713.1 483.0,709.7 483.2,713.5 483.5,710.4 483.8,713.6 484.0,709.9 484.2,713.8 484.5,710.1 484.8,713.5 485.0,709.5 485.2,713.1 485.5,709.7 485.8,713.1 486.0,710.5
L486.2,713.3 486.5,710.5 486.8,713.5 487.0,709.9 487.2,713.3 487.5,709.8 487.8,713.3 488.0,710.3 488.2,713.3 488.5,710.5 488.8,712.9 489.0,710.6 489.2,713.0 489.5,709.6 489.8,712.9
L490.0,709.6 490.2,712.9 490.5,709.8 490.8,713.4 491.0,710.0 491.2,713.3 491.5,710.5 491.8,713.3 492.0,710.6 492.2,713.1 492.5,710.7 492.8,713.2 493.0,710.3 493.2,713.4 493.5,710.4
L493.8,713.4 494.0,710.0 494.2,713.0 494.5,709.9 494.8,713.0 495.0,710.0 495.2,713.6 495.5,709.9 495.8,713.1 496.0,710.4 496.2,713.1 496.5,710.3 496.8,713.1 497.0,711.1 497.2,713.2
L497.5,711.1 497.8,714.0 498.0,711.0 498.2,713.9 498.5,710.4 498.8,713.4 499.0,710.3 499.2,713.3 499.5,710.0 499.8,713.7 500.0,709.9 500.2,713.2 500.5,710.5 500.8,713.2 501.0,710.4
L501.2,712.7 501.5,709.7 501.8,712.6 502.0,710.3 502.2,712.9 502.5,710.1 502.8,712.9 503.0,709.8 503.2,712.5 503.5,709.6 503.8,712.6 504.0,709.0 504.2,712.7 504.5,708.9 504.8,712.7
L505.0,708.9 505.2,712.7 505.5,708.7 505.8,712.0 506.0,709.3 506.2,711.9 506.5,708.9 506.8,712.2 507.0,708.9 507.2,712.1 507.5,708.7 507.8,711.7 508.0,708.7 508.2,711.6 508.5,708.4
L508.8,710.9 509.0,708.5 509.2,711.1 509.5,708.2 509.8,711.2 510.0,707.9 510.2,710.9 510.5,707.3 510.8,710.9 511.0,708.0 511.2,710.5 511.5,708.0 511.8,710.3 512.0,707.7 512.2,710.8
L512.5,707.7 512.8,710.6 513.0,707.3 513.2,710.6 513.5,707.0 513.8,710.1 514.0,706.5 514.2,710.1 514.5,706.5 514.8,710.6 515.0,706.5 515.2,710.7 515.5,707.5 515.8,709.7 516.0,707.6
L516.2,710.1 516.5,707.4 516.8,710.4 517.0,707.4 517.2,710.6 517.5,707.0 517.8,711.9 518.0,707.1 518.2,711.2 518.5,708.4 518.8,711.4 519.0,708.5 519.2,712.0 519.5,708.3 519.8,712.1
L520.0,709.3 520.2,711.7 520.5,709.2 520.8,711.1 521.0,708.2 521.2,711.4 521.5,707.6 521.8,710.8 522.0,706.8 522.2,709.8 522.5,706.6 522.8,709.3 523.0,705.8 523.2,708.9 523.5,705.3
L523.8,708.2 524.0,705.8 524.2,707.8 524.5,704.6 524.8,707.9 525.0,703.9 525.2,707.5 525.5,703.9 525.8,706.3 526.0,703.7 526.2,706.2 526.5,703.2 526.8,707.2 527.0,703.0 527.2,706.3
L527.5,703.2 527.8,706.2 528.0,703.0 528.2,705.9 528.5,702.6 528.8,705.7 529.0,702.8 529.2,705.7 529.5,702.8 529.8,705.7 530.0,702.0 530.2,705.7 530.5,701.9 530.8,705.5 531.0,702.4
L531.2,705.1 531.5,702.5 531.8,705.7 532.0,701.7 532.2,705.5 532.5,701.7 532.8,705.5 533.0,702.1 533.2,705.3 533.5,702.2 533.8,704.9 534.0,702.1 534.2,704.9 534.5,701.7 534.8,705.3
L535.0,701.8 535.2,705.3 535.5,701.6 535.8,705.2 536.0,701.7 536.2,704.7 536.5,701.5 536.8,704.9 537.0,701.8 537.2,704.9 537.5,702.2 537.8,705.2 538.0,702.6 538.2,705.6 538.5,702.6
L538.8,705.7 539.0,701.9 539.2,705.6 539.5,702.2 539.8,705.6 540.0,702.6 540.2,706.6 540.5,702.6 540.8,706.2 541.0,703.2 541.2,706.2 541.5,703.4 541.8,706.8 542.0,703.3 542.2,706.9
L542.5,703.7 542.8,706.9 543.0,703.8 543.2,706.9 543.5,703.8 543.8,708.5 544.0,704.6 544.2,709.3 544.5,705.5 544.8,709.2 545.0,706.5 545.2,709.5 545.5,707.6 545.8,710.4 546.0,708.5
L546.2,712.3 546.5,709.6 546.8,713.4 547.0,710.3 547.2,713.7"/>
<path stroke="#ff0000" d="M227.5,712.6 227.8,716.0 228.0,712.8 228.2,715.9 228.5,712.9 228.8,716.3 229.0,712.9 229.2,716.3 229.5,712.7 229.8,715.9 230.0,712.6 230.2,716.2 230.5,712.0 230.8,716.1 231.0,712.0
L231.2,716.4 231.5,712.5 231.8,716.2 232.0,712.3 232.2,715.8 232.5,712.2 232.8,715.8 233.0,712.8 233.2,716.2 233.5,712.7 233.8,716.2 234.0,712.3 234.2,715.5 234.5,712.1 234.8,715.5
L235.0,711.9 235.2,715.6 235.5,711.8 235.8,715.5 236.0,712.2 236.2,715.4 236.5,712.6 236.8,715.2 237.0,712.7 237.2,715.3 237.5,712.8 237.8,715.3 238.0,712.7 238.2,715.3 238.5,712.2
L238.8,716.0 239.0,712.2 239.2,715.4 239.5,712.4 239.8,715.4 240.0,712.3 240.2,715.3 240.5,712.8 240.8,715.3 241.0,713.0 241.2,715.8 241.5,713.0 241.8,715.9 242.0,711.9 242.2,715.7
L242.5,711.8 242.8,715.6 243.0,712.0 243.2,715.5 243.5,712.0 243.8,715.2 244.0,712.3 244.2,715.3 244.5,712.3 244.8,715.0 245.0,712.8 245.2,715.0 245.5,712.2 245.8,714.9 246.0,712.1
L246.2,714.9 246.5,712.3 246.8,714.9 247.0,712.2 247.2,714.9 247.5,712.1 247.8,715.1 248.0,712.1 248.2,715.5 248.5,712.1 248.8,715.5 249.0,712.1 249.2,715.4 249.5,712.3 249.8,715.4
L250.0,712.1 250.2,715.7 250.5,712.0 250.8,715.5 251.0,711.8 251.2,715.8 251.5,711.9 251.8,715.7 252.0,712.6 252.2,715.3 252.5,712.4 252.8,715.1 253.0,712.2 253.2,715.0 253.5,712.2
L253.8,716.0 254.0,712.0 254.2,715.8 254.5,712.0 254.8,715.4 255.0,712.0 255.2,715.3 255.5,712.2 255.8,715.3 256.0,712.1 256.2,715.4 256.5,712.2 256.8,715.4 257.0,712.2 257.2,715.3
L257.5,711.7 257.8,715.2 258.0,711.7 258.2,715.7 258.5,712.6 258.8,715.6 259.0,711.6 259.2,714.7 259.5,711.4 259.8,714.7 260.0,711.7 260.2,715.7 260.5,711.7 260.8,715.5 261.0,712.3
L261.2,714.9 261.5,712.2 261.8,715.4 262.0,712.5 262.2,715.6 262.5,712.5 262.8,715.0 263.0,711.8 263.2,715.1 263.5,712.6 263.8,715.4 264.0,712.5 264.2,715.4 264.5,712.0 264.8,715.7
L265.0,711.9 265.2,715.8 265.5,711.6 265.8,715.6 266.0,711.9 266.2,715.2 266.5,712.6 266.8,715.3 267.0,712.7 267.2,715.3 267.5,711.6 267.8,715.5 268.0,712.7 268.2,715.5 268.5,712.8
L268.8,715.4 269.0,711.7 269.2,715.2 269.5,711.8 269.8,715.2 270.0,712.1 270.2,715.1 270.5,712.2 270.8,715.2 271.0,712.1 271.2,715.1 271.5,712.0 271.8,715.9 272.0,711.7 272.2,715.8
L272.5,711.5 272.8,715.8 273.0,711.6 273.2,715.8 273.5,712.2 273.8,715.3 274.0,712.2 274.2,715.3 274.5,712.7 274.8,715.7 275.0,712.7 275.2,716.0 275.5,711.8 275.8,715.9 276.0,711.9
L276.2,715.1 276.5,712.5 276.8,715.1 277.0,712.3 277.2,715.9 277.5,712.2 277.8,715.8 278.0,712.0 278.2,716.0 278.5,712.1 278.8,715.9 279.0,712.0 279.2,715.2 279.5,712.0 279.8,715.1
L280.0,712.3 280.2,715.2 280.5,712.4 280.8,715.9 281.0,711.6 281.2,716.1 281.5,711.8 281.8,715.3 282.0,711.9 282.2,715.3 282.5,712.6 282.8,715.4 283.0,712.7 283.2,715.3 283.5,711.9
L283.8,715.2 284.0,711.9 284.2,715.3 284.5,712.3 284.8,715.4 285.0,712.5 285.2,714.9 285.5,712.7 285.8,715.0 286.0,712.6 286.2,715.5 286.5,712.5 286.8,715.3 287.0,712.5 287.2,715.7
L287.5,712.6 287.8,715.6 288.0,712.1 288.2,715.9 288.5,712.0 288.8,716.2 289.0,712.0 289.2,716.0 289.5,712.0 289.8,716.1 290.0,712.9 290.2,716.2 290.5,712.5 290.8,716.0 291.0,712.7
L291.2,716.3 291.5,713.0 291.8,715.5 292.0,713.0 292.2,715.5 292.5,713.0 292.8,716.0 293.0,713.0 293.2,715.8 293.5,712.7 293.8,715.8 294.0,712.8 294.2,715.1 294.5,713.0 294.8,715.1
L295.0,712.1 295.2,715.4 295.5,712.0 295.8,715.4 296.0,712.2 296.2,715.3 296.5,712.1 296.8,715.4 297.0,712.9 297.2,715.3 297.5,712.8 297.8,715.4 298.0,713.1 298.2,715.4 298.5,713.1
L298.8,715.6 299.0,713.0 299.2,715.6 299.5,712.4 299.8,715.5 300.0,712.4 300.2,715.5 300.5,712.9 300.8,715.4 301.0,712.7 301.2,715.4 301.5,712.4 301.8,715.5 302.0,712.4 302.2,716.0
L302.5,712.1 302.8,715.9 303.0,712.2 303.2,715.5 303.5,712.8 303.8,715.5 304.0,713.0 304.2,715.4 304.5,712.8 304.8,715.3 305.0,712.3 305.2,717.0 305.5,712.1 305.8,717.1 306.0,712.8
L306.2,715.7 306.5,712.8 306.8,716.4 307.0,712.8 307.2,716.3 307.5,712.6 307.8,715.9 308.0,712.5 308.2,715.9 308.5,712.4 308.8,715.4 309.0,712.4 309.2,715.4 309.5,712.3 309.8,715.4
L310.0,712.2 310.2,715.3 310.5,712.2 310.8,716.1 311.0,712.1 311.2,715.4 311.5,713.1 311.8,715.4 312.0,713.1 312.2,715.2 312.5,711.9 312.8,715.3 313.0,712.6 313.2,716.0 313.5,712.4
L313.8,716.0 314.0,713.1 314.2,715.5 314.5,713.0 314.8,715.4 315.0,712.8 315.2,715.2 315.5,712.7 315.8,716.0 316.0,712.3 316.2,715.9 316.5,712.3 316.8,715.5 317.0,712.0 317.2,715.5
L317.5,712.4 317.8,716.1 318.0,712.4 318.2,715.9 318.5,712.2 318.8,715.8 319.0,712.1 319.2,715.8 319.5,712.4 319.8,715.2 320.0,712.3 320.2,716.3 320.5,712.8 320.8,716.0 321.0,712.7
L321.2,715.5 321.5,713.1 321.8,715.5 322.0,712.5 322.2,716.4 322.5,712.4 322.8,716.6 323.0,712.5 323.2,715.8 323.5,712.5 323.8,716.0 324.0,712.5 324.2,716.0 324.5,712.5 324.8,716.2
L325.0,713.1 325.2,716.0 325.5,713.1 325.8,715.2 326.0,712.4 326.2,715.1 326.5,712.1 326.8,715.4 327.0,712.1 327.2,715.4 327.5,712.2 327.8,716.0 328.0,712.2 328.2,716.2 328.5,713.0
L328.8,715.2 329.0,712.9 329.2,715.6 329.5,712.6 329.8,715.5 330.0,712.6 330.2,716.1 330.5,712.3 330.8,716.1 331.0,711.5 331.2,715.3 331.5,711.4 331.8,715.4 332.0,712.7 332.2,715.3
L332.5,712.8 332.8,715.3 333.0,712.6 333.2,715.3 333.5,712.6 333.8,716.0 334.0,712.2 334.2,715.9 334.5,712.2 334.8,715.6 335.0,712.8 335.2,715.8 335.5,713.0 335.8,715.6 336.0,713.0
L336.2,715.6 336.5,712.0 336.8,716.1 337.0,712.0 337.2,716.0 337.5,712.8 337.8,715.8 338.0,712.6 338.2,715.2 338.5,712.1 338.8,715.3 339.0,712.1 339.2,716.2 339.5,712.5 339.8,716.1
L340.0,713.0 340.2,715.7 340.5,713.0 340.8,715.9 341.0,711.9 341.2,715.9 341.5,712.0 341.8,716.0 342.0,712.8 342.2,715.7 342.5,712.8 342.8,716.1 343.0,712.3 343.2,716.1 343.5,712.1
L343.8,715.4 344.0,711.9 344.2,715.5 344.5,712.8 344.8,715.5 345.0,712.9 345.2,715.5 345.5,712.3 345.8,715.6 346.0,712.3 346.2,715.6 346.5,712.6 346.8,715.3 347.0,712.4 347.2,715.7
L347.5,712.6 347.8,715.5 348.0,712.6 348.2,716.0 348.5,712.6 348.8,716.2 349.0,712.3 349.2,716.0 349.5,712.4 349.8,716.0 350.0,712.2 350.2,715.3 350.5,712.2 350.8,715.4 351.0,711.4
L351.2,716.2 351.5,711.4 351.8,715.4 352.0,713.0 352.2,715.5 352.5,713.0 352.8,715.5 353.0,712.7 353.2,715.7 353.5,712.9 353.8,716.7 354.0,714.3 354.2,718.2 354.5,716.3 354.8,719.8
L355.0,717.7 355.2,719.8 355.5,716.1 355.8,717.9 356.0,714.6 356.2,716.8 356.5,713.4 356.8,716.2 357.0,713.4 357.2,716.2 357.5,712.9 357.8,716.1 358.0,713.2 358.2,716.5 358.5,713.2
L358.8,716.6 359.0,713.2 359.2,715.7 359.5,713.0 359.8,715.8 360.0,712.7 360.2,716.3 360.5,712.7 360.8,715.8 361.0,713.3 361.2,715.7 361.5,713.2 361.8,716.5 362.0,713.2 362.2,716.2
L362.5,712.5 362.8,716.2 363.0,712.5 363.2,716.1 363.5,712.1 363.8,716.1 364.0,712.3 364.2,715.9 364.5,712.8 364.8,715.6 365.0,712.8 365.2,715.3 365.5,712.5 365.8,715.3 366.0,712.5
L366.2,715.6 366.5,712.9 366.8,715.6 367.0,711.9 367.2,715.7 367.5,711.6 367.8,715.6 368.0,713.0 368.2,715.9 368.5,712.9 368.8,715.6 369.0,712.8 369.2,715.0 369.5,712.8 369.8,715.6
L370.0,712.7 370.2,715.7 370.5,712.8 370.8,716.2 371.0,712.9 371.2,716.2 371.5,712.0 371.8,716.2 372.0,712.2 372.2,716.3 372.5,712.2 372.8,715.7 373.0,712.0 373.2,715.7 373.5,712.0
L373.8,715.8 374.0,711.9 374.2,716.9 374.5,713.2 374.8,716.9 375.0,713.3 375.2,716.4 375.5,712.9 375.8,716.4 376.0,712.5 376.2,715.6 376.5,712.5 376.8,715.8 377.0,712.8 377.2,716.5
L377.5,712.8 377.8,716.6 378.0,712.0 378.2,715.4 378.5,711.4 378.8,714.8 379.0,711.4 379.2,714.4 379.5,710.9 379.8,713.3 380.0,710.0 380.2,713.1 380.5,710.4 380.8,713.5 381.0,710.2
L381.2,713.5 381.5,709.4 381.8,712.9 382.0,709.2 382.2,712.9 382.5,708.9 382.8,712.7 383.0,708.9 383.2,711.9 383.5,709.0 383.8,711.9 384.0,708.8 384.2,712.3 384.5,708.8 384.8,712.4
L385.0,708.2 385.2,711.7 385.5,708.1 385.8,711.6 386.0,708.8 386.2,711.8 386.5,708.7 386.8,711.7 387.0,707.8 387.2,711.1 387.5,707.7 387.8,710.6 388.0,708.6 388.2,710.6 388.5,708.5
L388.8,711.5 389.0,707.5 389.2,711.4 389.5,707.8 389.8,711.2 390.0,707.8 390.2,711.2 390.5,707.7 390.8,710.7 391.0,707.7 391.2,710.8 391.5,708.1 391.8,711.0 392.0,708.0 392.2,710.7
L392.5,707.7 392.8,710.8 393.0,707.5 393.2,712.4 393.5,707.8 393.8,712.5 394.0,708.0 394.2,711.1 394.5,708.0 394.8,711.0 395.0,708.1 395.2,710.9 395.5,708.3 395.8,710.8 396.0,707.8
L396.2,711.6 396.5,707.9 396.8,711.9 397.0,707.2 397.2,711.9 397.5,707.5 397.8,710.9 398.0,707.7 398.2,710.9 398.5,708.4 398.8,711.3 399.0,708.5 399.2,711.3 399.5,708.3 399.8,710.7
L400.0,708.4 400.2,710.7 400.5,707.3 400.8,711.4 401.0,707.2 401.2,711.1 401.5,707.8 401.8,710.9 402.0,707.7 402.2,711.5 402.5,707.4 402.8,711.4 403.0,708.1 403.2,710.6 403.5,708.3
L403.8,710.5 404.0,708.2 404.2,710.7 404.5,708.2 404.8,710.9 405.0,707.2 405.2,711.0 405.5,707.2 405.8,711.4 406.0,707.0 406.2,711.6 406.5,707.2 406.8,710.5 407.0,707.4 407.2,710.6
L407.5,707.4 407.8,711.4 408.0,707.2 408.2,711.6 408.5,708.4 408.8,710.4 409.0,708.4 409.2,710.4 409.5,708.1 409.8,710.6 410.0,708.3 410.2,711.0 410.5,708.3 410.8,711.1 411.0,708.2
L411.2,711.0 411.5,708.1 411.8,711.0 412.0,708.1 412.2,711.1 412.5,708.3 412.8,710.9 413.0,708.0 413.2,710.9 413.5,708.0 413.8,711.0 414.0,708.1 414.2,711.1 414.5,707.9 414.8,711.3
L415.0,708.1 415.2,711.1 415.5,708.2 415.8,711.2 416.0,708.0 416.2,711.2 416.5,707.3 416.8,712.2 417.0,707.6 417.2,712.3 417.5,707.6 417.8,710.8 418.0,707.6 418.2,710.8 418.5,708.3
L418.8,710.8 419.0,708.3 419.2,710.6 419.5,708.0 419.8,710.6 420.0,707.9 420.2,711.1 420.5,707.9 420.8,711.2 421.0,707.3 421.2,710.5 421.5,707.3 421.8,710.4 422.0,707.8 422.2,711.5
L422.5,707.8 422.8,711.4 423.0,707.7 423.2,711.5 423.5,707.8 423.8,711.4 424.0,708.2 424.2,711.7 424.5,708.2 424.8,711.1 425.0,708.6 425.2,711.0 425.5,708.1 425.8,711.3 426.0,708.2
L426.2,711.3 426.5,708.4 426.8,711.7 427.0,708.5 427.2,711.8 427.5,707.9 427.8,712.4 428.0,708.1 428.2,711.5 428.5,708.4 428.8,711.5 429.0,708.4 429.2,712.9 429.5,708.7 429.8,713.0
L430.0,709.4 430.2,712.6 430.5,709.5 430.8,712.6 431.0,708.7 431.2,712.7 431.5,708.8 431.8,712.8 432.0,709.6 432.2,712.4 432.5,709.7 432.8,712.0 433.0,709.6 433.2,712.2 433.5,709.6
L433.8,712.4 434.0,709.6 434.2,712.6 434.5,709.7 434.8,712.9 435.0,709.6 435.2,713.0 435.5,709.7 435.8,713.1 436.0,710.0 436.2,713.2 436.5,709.5 436.8,713.5 437.0,709.7 437.2,713.7
L437.5,710.5 437.8,713.7 438.0,710.7 438.2,713.5 438.5,709.8 438.8,713.4 439.0,710.6 439.2,713.6 439.5,710.7 439.8,713.6 440.0,710.2 440.2,713.7 440.5,710.7 440.8,714.1 441.0,711.0
L441.2,714.6 441.5,711.5 441.8,714.7 442.0,711.9 442.2,714.9 442.5,712.1 442.8,715.7 443.0,713.0 443.2,716.1 443.5,712.6 443.8,715.8 444.0,712.9 444.2,716.3 444.5,714.2 444.8,717.8
L445.0,714.4 445.2,718.1 445.5,714.6 445.8,717.2 446.0,714.9 446.2,718.2 446.5,715.5 446.8,718.5 447.0,715.8 447.2,719.0 447.5,715.9 447.8,719.1 448.0,714.4 448.2,718.3 448.5,714.0
L448.8,717.9 449.0,714.1 449.2,718.8 449.5,713.8 449.8,718.6 450.0,713.6 450.2,716.6 450.5,713.1 450.8,716.3 451.0,713.6 451.2,716.2 451.5,713.2 451.8,715.5 452.0,712.3 452.2,715.2
L452.5,712.4 452.8,715.6 453.0,712.3 453.2,715.8 453.5,711.9 453.8,715.6 454.0,712.0 454.2,715.6 454.5,712.7 454.8,717.0 455.0,712.6 455.2,715.9 455.5,712.6 455.8,715.7 456.0,712.3
L456.2,715.1 456.5,712.7 456.8,715.2 457.0,712.2 457.2,715.4 457.5,712.2 457.8,715.5 458.0,712.3 458.2,716.1 458.5,712.2 458.8,716.1 459.0,712.1 459.2,716.2 459.5,712.1 459.8,716.1
L460.0,712.4 460.2,716.0 460.5,712.1 460.8,716.5 461.0,713.2 461.2,716.6 461.5,712.6 461.8,716.5 462.0,712.4 462.2,716.5 462.5,712.7 462.8,716.1 463.0,712.9 463.2,716.2 463.5,712.3
L463.8,716.9 464.0,712.5 464.2,716.0 464.5,713.1 464.8,715.9 465.0,713.0 465.2,715.5 465.5,713.4 465.8,715.5 466.0,712.3 466.2,716.1 466.5,712.3 466.8,716.2 467.0,713.5 467.2,716.5
L467.5,713.5 467.8,716.3 468.0,713.3 468.2,716.7 468.5,713.2 468.8,716.2 469.0,712.5 469.2,716.4 469.5,712.6 469.8,716.1 470.0,712.6 470.2,716.1 470.5,712.8 470.8,715.8 471.0,712.7
L471.2,715.9 471.5,713.2 471.8,716.2 472.0,713.2 472.2,716.3 472.5,713.6 472.8,717.0 473.0,713.7 473.2,716.5 473.5,713.4 473.8,716.3 474.0,713.3 474.2,716.5 474.5,713.5 474.8,716.8
L475.0,713.3 475.2,716.9 475.5,713.1 475.8,716.9 476.0,713.3 476.2,716.0 476.5,713.4 476.8,716.2 477.0,713.1 477.2,716.1 477.5,713.2 477.8,716.9 478.0,713.0 478.2,717.0 478.5,713.3
L478.8,716.0 479.0,713.5 479.2,716.0 479.5,713.4 479.8,716.4 480.0,713.2 480.2,716.5 480.5,714.0 480.8,717.1 481.0,714.1 481.2,717.1 481.5,714.2 481.8,717.3 482.0,714.2 482.2,716.5
L482.5,714.0 482.8,716.5 483.0,714.0 483.2,716.4 483.5,713.5 483.8,716.4 484.0,714.0 484.2,717.6 484.5,714.0 484.8,717.5 485.0,713.7 485.2,717.1 485.5,713.7 485.8,717.1 486.0,713.6
L486.2,717.1 486.5,713.7 486.8,718.1 487.0,713.0 487.2,718.0 487.5,712.9 487.8,717.8 488.0,714.2 488.2,717.8 488.5,714.3 488.8,717.4 489.0,714.4 489.2,717.4 489.5,714.6 489.8,717.5
L490.0,714.4 490.2,717.5 490.5,714.1 490.8,718.1 491.0,714.0 491.2,717.5 491.5,714.2 491.8,717.5 492.0,714.3 492.2,717.8 492.5,714.5 492.8,717.8 493.0,714.4 493.2,717.6 493.5,714.2
L493.8,717.6 494.0,714.7 494.2,718.3 494.5,714.7 494.8,718.5 495.0,714.4 495.2,717.5 495.5,714.5 495.8,718.2 496.0,714.6 496.2,718.2 496.5,714.7 496.8,718.2 497.0,714.3 497.2,718.1
L497.5,715.1 497.8,718.4 498.0,715.0 498.2,718.5 498.5,713.6 498.8,718.0 499.0,713.9 499.2,718.1 499.5,714.7 499.8,719.1 500.0,714.8 500.2,718.4 500.5,715.3 500.8,718.3 501.0,715.3
L501.2,718.5 501.5,715.2 501.8,718.2 502.0,714.6 502.2,717.6 502.5,714.6 502.8,717.5 503.0,714.7 503.2,717.6 503.5,714.6 503.8,717.4 504.0,714.2 504.2,718.1 504.5,714.0 504.8,717.1
L505.0,714.5 505.2,716.8 505.5,714.6 505.8,717.2 506.0,714.6 506.2,717.2 506.5,714.5 506.8,717.0 507.0,714.4 507.2,716.7 507.5,714.1 507.8,716.8 508.0,714.1 508.2,716.7 508.5,714.2
L508.8,717.1 509.0,714.2 509.2,717.1 509.5,714.2 509.8,717.1 510.0,714.1 510.2,717.2 510.5,713.9 510.8,717.0 511.0,713.8 511.2,716.9 511.5,713.7 511.8,716.9 512.0,713.2 512.2,716.4
L512.5,713.1 512.8,716.4 513.0,712.5 513.2,716.6 513.5,712.5 513.8,715.5 514.0,713.1 514.2,715.6 514.5,713.0 514.8,716.3 515.0,712.6 515.2,716.4 515.5,713.4 515.8,716.6 516.0,713.9
L516.2,717.1 516.5,713.3 516.8,717.5 517.0,713.5 517.2,717.9 517.5,714.8 517.8,717.3 518.0,715.3 518.2,717.8 518.5,714.3 518.8,718.2 519.0,714.7 519.2,718.4 519.5,716.2 519.8,718.7
L520.0,716.0 520.2,719.2 520.5,715.9 520.8,718.8 521.0,716.4 521.2,718.7 521.5,715.9 521.8,718.2 522.0,715.7 522.2,718.2 522.5,715.3 522.8,717.5 523.0,714.5 523.2,717.1 523.5,714.2
L523.8,716.3 524.0,714.1 524.2,716.0 524.5,712.5 524.8,716.4 525.0,712.2 525.2,715.8 525.5,711.8 525.8,714.8 526.0,711.5 526.2,714.9 526.5,712.3 526.8,715.8 527.0,712.3 527.2,714.8
L527.5,712.3 527.8,714.7 528.0,712.2 528.2,714.4 528.5,711.4 528.8,714.2 529.0,710.9 529.2,714.3 529.5,711.1 529.8,714.1 530.0,710.6 530.2,713.9 530.5,710.6 530.8,713.8 531.0,710.8
L531.2,714.0 531.5,710.5 531.8,714.4 532.0,710.9 532.2,714.3 532.5,710.8 532.8,713.8 533.0,711.0 533.2,713.7 533.5,710.8 533.8,713.2 534.0,710.6 534.2,713.0 534.5,710.8 534.8,713.4
L535.0,710.9 535.2,713.5 535.5,709.7 535.8,713.5 536.0,709.7 536.2,713.5 536.5,710.3 536.8,713.4 537.0,710.5 537.2,714.0 537.5,710.6 537.8,714.2 538.0,710.4 538.2,713.4 538.5,710.3
L538.8,713.4 539.0,710.4 539.2,714.1 539.5,710.5 539.8,714.1 540.0,711.3 540.2,713.4 540.5,711.3 540.8,714.0 541.0,711.0 541.2,714.0 541.5,711.1 541.8,714.5 542.0,710.8 542.2,714.6
L542.5,711.1 542.8,713.9 543.0,711.5 543.2,714.7 543.5,711.2 543.8,715.1 544.0,711.9 544.2,715.9 544.5,713.0 544.8,717.0 545.0,713.7 545.2,718.4 545.5,714.2 545.8,718.8 546.0,715.1
L546.2,719.5 546.5,716.4 546.8,719.8 547.0,717.0 547.2,719.8 547.5,717.8"/>
<path stroke="#ffa500" d="M227.5,714.9 227.8,717.6 228.0,715.0 228.2,717.5 228.5,715.1 228.8,716.9 229.0,715.1 229.2,716.8 229.5,714.4 229.8,717.5 230.0,714.4 230.2,717.6 230.5,715.1 230.8,717.6 231.0,715.1
L231.2,717.1 231.5,714.7 231.8,717.1 232.0,714.3 232.2,717.5 232.5,714.1 232.8,717.5 233.0,714.2 233.2,717.2 233.5,714.2 233.8,717.2 234.0,714.4 234.2,716.8 234.5,714.5 234.8,717.0
L235.0,714.3 235.2,716.9 235.5,714.3 235.8,716.9 236.0,714.2 236.2,716.8 236.5,714.8 236.8,717.8 237.0,714.8 237.2,717.6 237.5,714.7 237.8,717.5 238.0,714.7 238.2,717.4 238.5,714.2
L238.8,716.9 239.0,714.2 239.2,717.3 239.5,714.2 239.8,717.2 240.0,714.0 240.2,717.7 240.5,714.0 240.8,717.6 241.0,714.6 241.2,717.6 241.5,714.6 241.8,717.5 242.0,714.5 242.2,717.3
L242.5,714.5 242.8,717.4 243.0,714.4 243.2,717.0 243.5,714.4 243.8,717.2 244.0,714.0 244.2,717.3 244.5,714.2 244.8,717.2 245.0,714.5 245.2,717.2 245.5,714.3 245.8,716.8 246.0,714.3
L246.2,716.8 246.5,714.9 246.8,717.3 247.0,714.9 247.2,717.3 247.5,714.8 247.8,717.1 248.0,714.9 248.2,716.8 248.5,714.2 248.8,716.8 249.0,714.1 249.2,716.8 249.5,714.9 249.8,716.7
L250.0,713.8 250.2,717.5 250.5,713.9 250.8,717.2 251.0,714.7 251.2,717.3 251.5,714.7 251.8,717.5 252.0,714.4 252.2,717.5 252.5,714.5 252.8,717.5 253.0,714.5 253.2,717.3 253.5,714.6
L253.8,717.4 254.0,714.2 254.2,717.3 254.5,714.8 254.8,716.6 255.0,714.8 255.2,716.6 255.5,714.2 255.8,717.2 256.0,714.0 256.2,717.1 256.5,714.5 256.8,717.3 257.0,714.5 257.2,716.5
L257.5,714.1 257.8,716.5 258.0,714.2 258.2,716.9 258.5,713.8 258.8,716.9 259.0,714.6 259.2,717.0 259.5,714.6 259.8,717.0 260.0,714.7 260.2,717.5 260.5,714.8 260.8,717.5 261.0,714.6
L261.2,716.9 261.5,714.5 261.8,716.7 262.0,713.8 262.2,716.5 262.5,713.9 262.8,717.0 263.0,713.8 263.2,717.1 263.5,713.9 263.8,717.5 264.0,713.8 264.2,717.4 264.5,714.1 264.8,716.5
L265.0,714.0 265.2,716.6 265.5,714.8 265.8,716.8 266.0,714.8 266.2,717.8 266.5,714.1 266.8,717.8 267.0,714.0 267.2,716.8 267.5,714.5 267.8,716.8 268.0,713.9 268.2,716.8 268.5,713.8
L268.8,716.9 269.0,714.4 269.2,717.5 269.5,714.4 269.8,717.6 270.0,714.1 270.2,717.1 270.5,714.2 270.8,717.0 271.0,713.7 271.2,717.0 271.5,713.8 271.8,716.5 272.0,714.0 272.2,716.5
L272.5,714.3 272.8,716.8 273.0,714.4 273.2,716.8 273.5,714.4 273.8,717.0 274.0,714.5 274.2,716.8 274.5,714.1 274.8,717.3 275.0,714.1 275.2,717.5 275.5,714.4 275.8,717.3 276.0,714.4
L276.2,716.6 276.5,714.4 276.8,716.6 277.0,714.3 277.2,717.6 277.5,714.4 277.8,717.4 278.0,714.3 278.2,716.6 278.5,714.3 278.8,716.6 279.0,714.5 279.2,717.4 279.5,714.6 279.8,717.5
L280.0,714.5 280.2,717.4 280.5,714.5 280.8,717.4 281.0,713.9 281.2,717.3 281.5,714.1 281.8,717.4 282.0,714.3 282.2,717.4 282.5,714.3 282.8,717.0 283.0,714.3 283.2,717.1 283.5,714.3
L283.8,716.9 284.0,714.2 284.2,716.9 284.5,714.1 284.8,716.8 285.0,714.0 285.2,717.2 285.5,714.8 285.8,717.1 286.0,714.7 286.2,717.3 286.5,714.7 286.8,717.3 287.0,714.8 287.2,716.9
L287.5,714.8 287.8,717.1 288.0,714.2 288.2,716.6 288.5,714.2 288.8,717.3 289.0,714.8 289.2,717.3 289.5,714.7 289.8,716.8 290.0,714.4 290.2,716.9 290.5,714.1 290.8,717.5 291.0,714.1
L291.2,717.6 291.5,713.8 291.8,716.9 292.0,714.1 292.2,716.9 292.5,714.5 292.8,717.3 293.0,714.4 293.2,717.2 293.5,714.0 293.8,717.3 294.0,713.8 294.2,717.4 294.5,714.4 294.8,717.5
L295.0,714.5 295.2,717.2 295.5,714.6 295.8,717.4 296.0,714.1 296.2,718.3 296.5,713.9 296.8,718.0 297.0,713.4 297.2,716.7 297.5,713.4 297.8,717.4 298.0,714.7 298.2,717.5 298.5,714.6
L298.8,717.0 299.0,714.4 299.2,717.1 299.5,714.4 299.8,717.0 300.0,714.2 300.2,717.1 300.5,714.4 300.8,716.9 301.0,714.3 301.2,716.9 301.5,714.2 301.8,716.7 302.0,714.1 302.2,716.5
L302.5,714.6 302.8,716.6 303.0,714.6 303.2,717.3 303.5,714.3 303.8,717.2 304.0,714.7 304.2,716.8 304.5,714.7 304.8,716.7 305.0,713.9 305.2,717.4 305.5,714.1 305.8,717.4 306.0,714.9
L306.2,716.6 306.5,714.9 306.8,717.1 307.0,714.3 307.2,717.2 307.5,714.1 307.8,717.4 308.0,714.6 308.2,717.4 308.5,714.0 308.8,716.8 309.0,714.0 309.2,716.9 309.5,714.8 309.8,717.3
L310.0,714.7 310.2,717.6 310.5,714.4 310.8,717.4 311.0,714.5 311.2,716.9 311.5,714.7 311.8,716.8 312.0,714.7 312.2,716.6 312.5,714.7 312.8,716.6 313.0,714.3 313.2,716.8 313.5,714.4
L313.8,716.6 314.0,714.1 314.2,716.7 314.5,714.2 314.8,716.8 315.0,714.5 315.2,716.9 315.5,714.4 315.8,717.5 316.0,714.7 316.2,717.5 316.5,714.6 316.8,717.4 317.0,714.1 317.2,717.4
L317.5,714.6 317.8,716.9 318.0,714.5 318.2,716.9 318.5,714.3 318.8,717.2 319.0,714.3 319.2,717.2 319.5,713.4 319.8,717.3 320.0,713.5 320.2,716.5 320.5,714.6 320.8,716.5 321.0,714.5
L321.2,717.1 321.5,714.4 321.8,717.2 322.0,714.4 322.2,717.5 322.5,714.2 322.8,717.5 323.0,714.1 323.2,716.6 323.5,714.1 323.8,716.7 324.0,714.3 324.2,716.7 324.5,714.4 324.8,717.0
L325.0,714.1 325.2,717.1 325.5,714.1 325.8,717.4 326.0,713.9 326.2,717.5 326.5,714.2 326.8,716.6 327.0,714.1 327.2,716.7 327.5,714.4 327.8,716.9 328.0,714.4 328.2,717.0 328.5,714.0
L328.8,716.5 329.0,713.7 329.2,716.7 329.5,714.2 329.8,716.7 330.0,714.2 330.2,717.3 330.5,713.9 330.8,717.3 331.0,714.7 331.2,717.2 331.5,714.7 331.8,717.1 332.0,714.3 332.2,716.8
L332.5,714.1 332.8,716.9 333.0,714.2 333.2,716.6 333.5,714.2 333.8,717.4 334.0,713.8 334.2,717.2 334.5,713.9 334.8,717.4 335.0,714.4 335.2,717.3 335.5,713.9 335.8,717.0 336.0,713.8
L336.2,716.9 336.5,714.7 336.8,717.3 337.0,714.7 337.2,717.2 337.5,713.8 337.8,717.1 338.0,713.9 338.2,717.1 338.5,713.9 338.8,717.1 339.0,713.8 339.2,717.0 339.5,714.0 339.8,716.9
L340.0,714.6 340.2,716.5 340.5,714.6 340.8,716.5 341.0,713.4 341.2,716.6 341.5,713.4 341.8,716.4 342.0,713.8 342.2,717.1 342.5,713.7 342.8,716.9 343.0,714.2 343.2,716.8 343.5,714.1
L343.8,717.0 344.0,714.1 344.2,716.8 344.5,713.9 344.8,716.5 345.0,713.8 345.2,716.4 345.5,714.0 345.8,716.9 346.0,714.2 346.2,717.0 346.5,713.8 346.8,716.5 347.0,713.7 347.2,716.7
L347.5,714.4 347.8,716.6 348.0,714.6 348.2,717.1 348.5,714.1 348.8,717.2 349.0,714.2 349.2,717.2 349.5,714.2 349.8,717.3 350.0,713.7 350.2,717.4 350.5,713.6 350.8,717.3 351.0,714.5
L351.2,716.6 351.5,714.6 351.8,717.3 352.0,714.3 352.2,717.1 352.5,714.4 352.8,716.4 353.0,714.5 353.2,716.5 353.5,714.4 353.8,716.5 354.0,714.5 354.2,716.6 354.5,713.9 354.8,716.8
L355.0,713.9 355.2,716.7 355.5,714.3 355.8,716.6 356.0,714.4 356.2,716.5 356.5,713.7 356.8,716.5 357.0,713.6 357.2,716.4 357.5,713.8 357.8,716.3 358.0,714.4 358.2,716.2 358.5,714.5
L358.8,716.3 359.0,714.1 359.2,717.0 359.5,713.9 359.8,716.9 360.0,713.8 360.2,716.5 360.5,713.8 360.8,716.9 361.0,713.5 361.2,716.9 361.5,713.6 361.8,716.9 362.0,713.5 362.2,717.0
L362.5,714.0 362.8,717.2 363.0,714.0 363.2,717.1 363.5,714.2 363.8,716.9 364.0,714.3 364.2,716.9 364.5,714.0 364.8,716.6 365.0,713.9 365.2,717.0 365.5,713.3 365.8,716.8 366.0,713.3
L366.2,716.4 366.5,714.2 366.8,716.5 367.0,714.2 367.2,716.4 367.5,714.3 367.8,716.3 368.0,713.9 368.2,716.3 368.5,713.8 368.8,716.4 369.0,713.6 369.2,716.7 369.5,713.7 369.8,716.9
L370.0,713.5 370.2,716.8 370.5,713.6 370.8,717.1 371.0,712.8 371.2,717.2 371.5,714.2 371.8,716.8 372.0,714.2 372.2,717.0 372.5,714.3 372.8,716.8 373.0,714.3 373.2,716.7 373.5,714.3
L373.8,716.6 374.0,714.3 374.2,716.6 374.5,714.5 374.8,716.7 375.0,714.5 375.2,716.8 375.5,713.8 375.8,716.8 376.0,714.5 376.2,716.5 376.5,714.6 376.8,716.4 377.0,713.9 377.2,716.8
L377.5,713.9 377.8,716.5 378.0,713.7 378.2,716.3 378.5,713.1 378.8,715.3 379.0,712.6 379.2,714.8 379.5,711.9 379.8,714.7 380.0,711.1 380.2,714.4 380.5,711.2 380.8,713.7 381.0,710.9
L381.2,713.7 381.5,710.9 381.8,713.2 382.0,710.6 382.2,713.1 382.5,710.9 382.8,713.3 383.0,710.8 383.2,713.1 383.5,709.9 383.8,713.0 384.0,709.8 384.2,713.1 384.5,710.2 384.8,712.9
L385.0,709.9 385.2,712.2 385.5,709.7 385.8,712.1 386.0,709.5 386.2,712.4 386.5,709.5 386.8,712.1 387.0,708.5 387.2,711.6 387.5,708.4 387.8,712.0 388.0,708.7 388.2,712.0 388.5,708.5
L388.8,711.8 389.0,709.4 389.2,711.7 389.5,708.7 389.8,711.5 390.0,708.8 390.2,711.6 390.5,708.4 390.8,711.6 391.0,708.6 391.2,711.6 391.5,709.4 391.8,711.8 392.0,709.4 392.2,711.7
L392.5,709.3 392.8,711.5 393.0,709.3 393.2,711.5 393.5,709.2 393.8,711.5 394.0,708.5 394.2,711.6 394.5,708.5 394.8,711.5 395.0,708.7 395.2,711.9 395.5,708.5 395.8,711.8 396.0,708.8
L396.2,711.1 396.5,708.6 396.8,711.8 397.0,708.4 397.2,711.9 397.5,708.5 397.8,711.3 398.0,709.0 398.2,711.3 398.5,709.1 398.8,711.8 399.0,709.1 399.2,711.9 399.5,708.8 399.8,711.8
L400.0,708.7 400.2,711.8 400.5,708.2 400.8,711.5 401.0,708.3 401.2,711.2 401.5,709.0 401.8,711.2 402.0,708.9 402.2,711.4 402.5,708.6 402.8,711.5 403.0,708.9 403.2,711.3 403.5,709.0
L403.8,711.3 404.0,709.0 404.2,711.8 404.5,708.9 404.8,711.7 405.0,708.8 405.2,711.5 405.5,708.9 405.8,711.2 406.0,708.2 406.2,711.2 406.5,708.4 406.8,711.4 407.0,709.0 407.2,711.4
L407.5,708.3 407.8,711.1 408.0,708.4 408.2,711.1 408.5,708.4 408.8,711.0 409.0,708.4 409.2,710.9 409.5,708.9 409.8,711.8 410.0,708.9 410.2,711.6 410.5,709.0 410.8,711.6 411.0,708.9
L411.2,711.5 411.5,708.7 411.8,711.4 412.0,708.2 412.2,711.1 412.5,708.3 412.8,711.0 413.0,708.3 413.2,711.6 413.5,708.1 413.8,711.6 414.0,708.5 414.2,711.0 414.5,708.5 414.8,711.0
L415.0,708.1 415.2,710.9 415.5,708.0 415.8,710.8 416.0,708.0 416.2,710.8 416.5,708.2 416.8,711.3 417.0,708.1 417.2,711.4 417.5,708.7 417.8,711.2 418.0,708.7 418.2,711.1 418.5,708.8
L418.8,711.0 419.0,708.8 419.2,711.0 419.5,708.5 419.8,711.1 420.0,708.6 420.2,710.8 420.5,708.3 420.8,710.9 421.0,707.8 421.2,711.4 421.5,707.9 421.8,711.4 422.0,708.5 422.2,711.5
L422.5,708.4 422.8,711.6 423.0,708.0 423.2,711.1 423.5,708.0 423.8,710.7 424.0,708.4 424.2,711.0 424.5,708.4 424.8,710.9 425.0,708.5 425.2,711.0 425.5,709.1 425.8,711.5 426.0,709.2
L426.2,711.7 426.5,708.6 426.8,711.9 427.0,708.8 427.2,712.3 427.5,708.9 427.8,711.6 428.0,709.0 428.2,712.2 428.5,709.0 428.8,712.2 429.0,709.1 429.2,711.7 429.5,709.6 429.8,711.8
L430.0,709.9 430.2,712.2 430.5,710.1 430.8,712.3 431.0,709.9 431.2,712.3 431.5,709.8 431.8,712.4 432.0,709.5 432.2,712.3 432.5,709.7 432.8,712.4 433.0,709.9 433.2,712.5 433.5,709.9
L433.8,712.8 434.0,709.9 434.2,712.8 434.5,710.0 434.8,713.1 435.0,710.1 435.2,713.2 435.5,710.5 435.8,713.0 436.0,710.6 436.2,713.2 436.5,711.1 436.8,713.5 437.0,711.2 437.2,713.5
L437.5,711.2 437.8,713.7 438.0,711.3 438.2,713.8 438.5,711.0 438.8,714.1 439.0,711.3 439.2,714.2 439.5,711.3 439.8,714.2 440.0,711.6 440.2,714.4 440.5,711.8 440.8,714.6 441.0,711.6
L441.2,714.9 441.5,712.0 441.8,714.7 442.0,712.2 442.2,715.0 442.5,712.4 442.8,715.2 443.0,713.2 443.2,715.6 443.5,713.6 443.8,716.5 444.0,714.0 444.2,716.8 444.5,714.0 444.8,717.2
L445.0,714.2 445.2,717.5 445.5,715.0 445.8,717.0 446.0,715.3 446.2,718.0 446.5,715.2 446.8,718.2 447.0,715.5 447.2,717.9 447.5,715.4 447.8,718.0 448.0,715.2 448.2,718.1 448.5,715.0
L448.8,717.7 449.0,715.1 449.2,717.3 449.5,714.7 449.8,717.1 450.0,714.3 450.2,716.7 450.5,713.9 450.8,716.4 451.0,713.3 451.2,716.0 451.5,712.9 451.8,715.5 452.0,712.3 452.2,715.3
L452.5,712.9 452.8,715.3 453.0,713.0 453.2,715.5 453.5,713.1 453.8,715.2 454.0,713.1 454.2,715.1 454.5,712.3 454.8,715.2 455.0,712.4 455.2,715.8 455.5,712.6 455.8,716.0 456.0,712.5
L456.2,715.1 456.5,712.7 456.8,715.2 457.0,712.5 457.2,715.2 457.5,712.7 457.8,715.4 458.0,713.1 458.2,716.0 458.5,713.1 458.8,716.2 459.0,712.8 459.2,715.7 459.5,712.9 459.8,716.1
L460.0,713.3 460.2,716.3 460.5,713.4 460.8,715.7 461.0,713.2 461.2,715.7 461.5,712.8 461.8,715.9 462.0,712.9 462.2,716.0 462.5,713.0 462.8,715.8 463.0,712.9 463.2,715.9 463.5,713.0
L463.8,715.4 464.0,712.9 464.2,715.9 464.5,713.1 464.8,715.9 465.0,713.1 465.2,716.0 465.5,713.6 465.8,715.9 466.0,713.3 466.2,715.5 466.5,713.3 466.8,715.6 467.0,713.1 467.2,716.1
L467.5,712.9 467.8,716.3 468.0,713.2 468.2,715.5 468.5,713.3 468.8,715.7 469.0,713.2 469.2,715.7 469.5,713.4 469.8,716.2 470.0,713.5 470.2,716.3 470.5,713.6 470.8,715.7 471.0,713.5
L471.2,715.7 471.5,713.0 471.8,715.8 472.0,712.8 472.2,715.7 472.5,713.0 472.8,715.7 473.0,713.2 473.2,716.1 473.5,713.0 473.8,716.2 474.0,712.9 474.2,715.8 474.5,713.6 474.8,715.8
L475.0,713.3 475.2,716.1 475.5,713.4 475.8,716.1 476.0,713.4 476.2,716.1 476.5,713.4 476.8,716.2 477.0,713.5 477.2,716.6 477.5,713.5 477.8,716.1 478.0,713.7 478.2,716.0 478.5,713.7
L478.8,716.3 479.0,713.3 479.2,716.3 479.5,713.5 479.8,716.7 480.0,713.7 480.2,716.7 480.5,713.4 480.8,716.4 481.0,713.5 481.2,716.4 481.5,714.0 481.8,716.3 482.0,713.9 482.2,717.2
L482.5,713.9 482.8,716.9 483.0,713.7 483.2,716.3 483.5,714.4 483.8,716.4 484.0,713.9 484.2,717.0 484.5,714.0 484.8,716.9 485.0,714.0 485.2,716.6 485.5,714.0 485.8,716.6 486.0,714.3
L486.2,717.1 486.5,714.3 486.8,717.5 487.0,714.9 487.2,717.4 487.5,714.9 487.8,716.9 488.0,714.0 488.2,716.9 488.5,714.9 488.8,717.7 489.0,714.9 489.2,717.6 489.5,714.3 489.8,717.1
L490.0,714.4 490.2,717.1 490.5,714.9 490.8,717.3 491.0,715.0 491.2,716.9 491.5,714.4 491.8,717.1 492.0,714.6 492.2,717.7 492.5,715.0 492.8,717.9 493.0,714.4 493.2,717.8 493.5,714.5
L493.8,717.8 494.0,715.3 494.2,717.9 494.5,715.3 494.8,717.8 495.0,714.6 495.2,717.7 495.5,714.7 495.8,718.3 496.0,714.9 496.2,718.2 496.5,715.0 496.8,717.5 497.0,715.2 497.2,717.6
L497.5,715.6 497.8,718.1 498.0,715.6 498.2,718.2 498.5,715.7 498.8,718.4 499.0,715.8 499.2,718.5 499.5,715.0 499.8,718.2 500.0,715.1 500.2,717.6 500.5,715.1 500.8,717.6 501.0,715.0
L501.2,718.0 501.5,714.8 501.8,718.0 502.0,715.0 502.2,717.8 502.5,715.1 502.8,717.7 503.0,714.6 503.2,718.0 503.5,714.4 503.8,718.1 504.0,714.7 504.2,718.6 504.5,714.8 504.8,717.1
L505.0,714.8 505.2,717.0 505.5,714.9 505.8,717.6 506.0,715.0 506.2,717.6 506.5,715.1 506.8,718.0 507.0,714.9 507.2,718.1 507.5,714.2 507.8,717.9 508.0,714.1 508.2,717.8 508.5,714.5
L508.8,716.9 509.0,714.4 509.2,717.9 509.5,714.7 509.8,717.7 510.0,714.6 510.2,716.5 510.5,714.2 510.8,716.4 511.0,713.8 511.2,717.1 511.5,713.8 511.8,717.2 512.0,713.6 512.2,716.6
L512.5,713.6 512.8,716.6 513.0,713.5 513.2,716.0 513.5,713.4 513.8,716.4 514.0,713.5 514.2,716.4 514.5,713.5 514.8,716.5 515.0,713.5 515.2,716.4 515.5,713.3 515.8,716.8 516.0,713.7
L516.2,716.9 516.5,714.0 516.8,717.3 517.0,714.1 517.2,717.6 517.5,715.0 517.8,717.3 518.0,715.3 518.2,718.1 518.5,715.4 518.8,718.3 519.0,715.6 519.2,718.5 519.5,715.7 519.8,719.0
L520.0,716.7 520.2,718.7 520.5,716.7 520.8,718.4 521.0,715.7 521.2,718.2 521.5,715.3 521.8,717.9 522.0,715.7 522.2,718.0 522.5,715.3 522.8,717.6 523.0,714.7 523.2,717.2 523.5,714.3
L523.8,717.3 524.0,714.5 524.2,716.9 524.5,714.1 524.8,716.0 525.0,713.9 525.2,715.6 525.5,713.4 525.8,715.6 526.0,713.3 526.2,715.5 526.5,713.0 526.8,716.0 527.0,713.1 527.2,715.5
L527.5,713.3 527.8,715.4 528.0,713.2 528.2,715.7 528.5,712.3 528.8,715.8 529.0,712.3 529.2,715.0 529.5,712.1 529.8,714.9 530.0,712.6 530.2,714.8 530.5,712.6 530.8,714.7 531.0,711.9
L531.2,714.9 531.5,711.8 531.8,715.4 532.0,711.5 532.2,715.1 532.5,711.3 532.8,715.1 533.0,711.8 533.2,714.9 533.5,711.7 533.8,714.3 534.0,711.5 534.2,714.3 534.5,711.8 534.8,714.0
L535.0,711.8 535.2,714.1 535.5,711.5 535.8,714.4 536.0,711.5 536.2,714.2 536.5,712.2 536.8,714.2 537.0,712.3 537.2,715.6 537.5,711.5 537.8,715.7 538.0,712.2 538.2,715.1 538.5,712.2
L538.8,715.1 539.0,712.1 539.2,714.8 539.5,712.1 539.8,714.9 540.0,711.4 540.2,714.9 540.5,711.5 540.8,715.0 541.0,711.7 541.2,715.0 541.5,711.7 541.8,715.0 542.0,711.8 542.2,715.1
L542.5,712.5 542.8,715.3 543.0,712.9 543.2,716.0 543.5,713.0 543.8,716.1 544.0,713.7 544.2,716.9 544.5,713.9 544.8,717.3 545.0,714.4 545.2,717.7 545.5,715.3 545.8,718.3 546.0,716.0
L546.2,719.3 546.5,716.5 546.8,719.8 547.0,717.0 547.2,719.8"/>
</g>
<g stroke="#000" stroke-width="0.7" stroke-dasharray="1.39 4.17" fill="none">
<path d="M266.5,720.8 V80.5"/>
<path d="M383.5,720.8 V80.5"/>
<path d="M499.5,720.8 V80.5"/>
<path d="M615.5,720.8 V80.5"/>
<path d="M731.5,720.8 V80.5"/>
<path d="M848.5,720.8 V80.5"/>
<path d="M964.5,720.8 V80.5"/>
<path d="M150.5,640.5 H1080.5"/>
<path d="M150.5,560.5 H1080.5"/>
<path d="M150.5,480.5 H1080.5"/>
<path d="M150.5,400.5 H1080.5"/>
<path d="M150.5,320.5 H1080.5"/>
<path d="M150.5,240.5 H1080.5"/>
<path d="M150.5,160.5 H1080.5"/>
</g>
<g stroke="#000" stroke-width="0.7" fill="none">
<path d="M150.5,720.5 v-5.6 M150.5,80.5 v5.6"/>
<path d="M266.5,720.5 v-5.6 M266.5,80.5 v5.6"/>
<path d="M383.5,720.5 v-5.6 M383.5,80.5 v5.6"/>
<path d="M499.5,720.5 v-5.6 M499.5,80.5 v5.6"/>
<path d="M615.5,720.5 v-5.6 M615.5,80.5 v5.6"/>
<path d="M731.5,720.5 v-5.6 M731.5,80.5 v5.6"/>
<path d="M848.5,720.5 v-5.6 M848.5,80.5 v5.6"/>
<path d="M964.5,720.5 v-5.6 M964.5,80.5 v5.6"/>
<path d="M1080.5,720.5 v-5.6 M1080.5,80.5 v5.6"/>
<path d="M150.5,720.5 h5.6 M1080.5,720.5 h-5.6"/>
<path d="M150.5,640.5 h5.6 M1080.5,640.5 h-5.6"/>
<path d="M150.5,560.5 h5.6 M1080.5,560.5 h-5.6"/>
<path d="M150.5,480.5 h5.6 M1080.5,480.5 h-5.6"/>
<path d="M150.5,400.5 h5.6 M1080.5,400.5 h-5.6"/>
<path d="M150.5,320.5 h5.6 M1080.5,320.5 h-5.6"/>
<path d="M150.5,240.5 h5.6 M1080.5,240.5 h-5.6"/>
<path d="M150.5,160.5 h5.6 M1080.5,160.5 h-5.6"/>
<path d="M150.5,80.5 h5.6 M1080.5,80.5 h-5.6"/>
</g>
<rect x="150.5" y="80.5" width="930" height="640" fill="none" stroke="#000" stroke-width="1.39" stroke-linejoin="miter"/>
<g font-family="'DejaVu Sans', 'Liberation Sans', sans-serif" font-size="20.83px" fill="#000">
<text x="614.95" y="73.5" text-anchor="middle" letter-spacing="0.034">MRT3 of 2018/03/27 with focus code = 02</text>
<text x="150.75" y="741.5" text-anchor="middle">0</text>
<text x="267.00" y="741.5" text-anchor="middle">3</text>
<text x="383.25" y="741.5" text-anchor="middle">6</text>
<text x="499.50" y="741.5" text-anchor="middle">9</text>
<text x="614.55" y="741.5" text-anchor="middle" letter-spacing="0.5">12</text>
<text x="732.35" y="741.5" text-anchor="middle" letter-spacing="0.5">15</text>
<text x="848.05" y="741.5" text-anchor="middle" letter-spacing="0.5">18</text>
<text x="964.10" y="741.5" text-anchor="middle" letter-spacing="0.5">21</text>
<text x="1080.75" y="741.5" text-anchor="middle" letter-spacing="0.5">24</text>
<text x="144.8" y="725.6" text-anchor="end">0</text>
<text x="144.8" y="645.6" text-anchor="end">5</text>
<text x="144.8" y="565.6" text-anchor="end" letter-spacing="0.5">10</text>
<text x="144.8" y="485.6" text-anchor="end" letter-spacing="0.5">15</text>
<text x="144.8" y="405.6" text-anchor="end" letter-spacing="0.5">20</text>
<text x="144.8" y="325.6" text-anchor="end" letter-spacing="0.5">25</text>
<text x="144.8" y="245.6" text-anchor="end" letter-spacing="0.5">30</text>
<text x="144.8" y="165.6" text-anchor="end" letter-spacing="0.5">35</text>
<text x="143.8" y="85.6" text-anchor="end" letter-spacing="0.5">40</text>
<text x="615.1" y="768.8" text-anchor="middle" letter-spacing="0.07">Universal Time [h]</text>
<text transform="translate(104.3,400.5) rotate(-90)" text-anchor="middle" letter-spacing="0.16">Y-factor [dB]</text>
<text x="1000.5" y="127.5" text-anchor="middle" fill="#0000ff">74.250 MHz</text>
<text x="1000.5" y="159.5" text-anchor="middle" fill="#008000">150.500 MHz</text>
<text x="1000.5" y="191.5" text-anchor="middle" fill="#ff0000">324.440 MHz</text>
<text x="1000.5" y="223.5" text-anchor="middle" fill="#ffa500">408.590 MHz</text>
</g>
</svg>
</body>
</html>
